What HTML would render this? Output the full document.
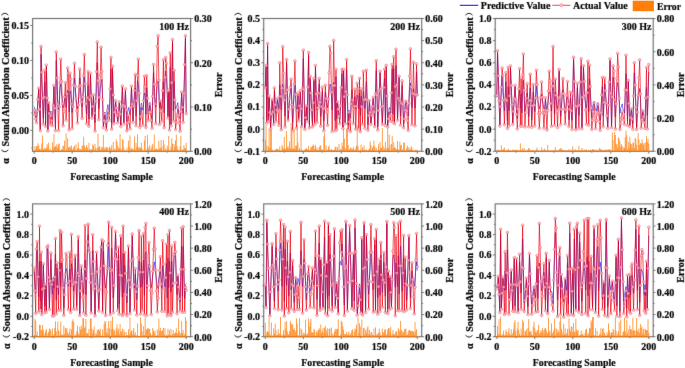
<!DOCTYPE html><html><head><meta charset="utf-8"><style>html,body{margin:0;padding:0;background:#fff;}svg{display:block;will-change:transform;} text{font-family:"Liberation Serif", serif;font-weight:bold;fill:#000;stroke:#000;stroke-width:0.2px;}</style></head><body>
<svg width="685" height="368" viewBox="0 0 685 368">
<defs><filter id="bl" filterUnits="userSpaceOnUse" x="0" y="0" width="685" height="368"><feConvolveMatrix order="3" kernelMatrix="0.015 0.06 0.015 0.06 0.7 0.06 0.015 0.06 0.015" edgeMode="duplicate"/></filter></defs>
<rect width="685" height="368" fill="#fff"/>
<g filter="url(#bl)"><rect x="32.60" y="18.50" width="158.00" height="132.80" fill="none" stroke="#707070" stroke-width="1.15"/>
<path d="M30.20 130.33H32.60M30.20 95.38H32.60M30.20 60.44H32.60M30.20 25.49H32.60M31.20 147.81H32.60M31.20 112.86H32.60M31.20 77.91H32.60M31.20 42.96H32.60M190.60 151.30H193.00M190.60 107.03H193.00M190.60 62.77H193.00M190.60 18.50H193.00M190.60 129.17H192.00M190.60 84.90H192.00M190.60 40.63H192.00M34.20 151.30V153.70M72.20 151.30V153.70M110.20 151.30V153.70M148.20 151.30V153.70M186.20 151.30V153.70M53.20 151.30V152.70M91.20 151.30V152.70M129.20 151.30V152.70M167.20 151.30V152.70" stroke="#5a5a5a" stroke-width="0.8" fill="none"/>
<rect x="263.70" y="18.50" width="158.00" height="132.80" fill="none" stroke="#707070" stroke-width="1.15"/>
<path d="M261.30 151.30H263.70M261.30 129.17H263.70M261.30 107.03H263.70M261.30 84.90H263.70M261.30 62.77H263.70M261.30 40.63H263.70M261.30 18.50H263.70M262.30 140.23H263.70M262.30 118.10H263.70M262.30 95.97H263.70M262.30 73.83H263.70M262.30 51.70H263.70M262.30 29.57H263.70M421.70 151.30H424.10M421.70 129.17H424.10M421.70 107.03H424.10M421.70 84.90H424.10M421.70 62.77H424.10M421.70 40.63H424.10M421.70 18.50H424.10M421.70 140.23H423.10M421.70 118.10H423.10M421.70 95.97H423.10M421.70 73.83H423.10M421.70 51.70H423.10M421.70 29.57H423.10M265.30 151.30V153.70M303.30 151.30V153.70M341.30 151.30V153.70M379.30 151.30V153.70M417.30 151.30V153.70M284.30 151.30V152.70M322.30 151.30V152.70M360.30 151.30V152.70M398.30 151.30V152.70" stroke="#5a5a5a" stroke-width="0.8" fill="none"/>
<rect x="495.20" y="18.50" width="158.00" height="132.80" fill="none" stroke="#707070" stroke-width="1.15"/>
<path d="M492.80 151.30H495.20M492.80 129.17H495.20M492.80 107.03H495.20M492.80 84.90H495.20M492.80 62.77H495.20M492.80 40.63H495.20M492.80 18.50H495.20M493.80 140.23H495.20M493.80 118.10H495.20M493.80 95.97H495.20M493.80 73.83H495.20M493.80 51.70H495.20M493.80 29.57H495.20M653.20 151.30H655.60M653.20 118.10H655.60M653.20 84.90H655.60M653.20 51.70H655.60M653.20 18.50H655.60M653.20 134.70H654.60M653.20 101.50H654.60M653.20 68.30H654.60M653.20 35.10H654.60M496.80 151.30V153.70M534.80 151.30V153.70M572.80 151.30V153.70M610.80 151.30V153.70M648.80 151.30V153.70M515.80 151.30V152.70M553.80 151.30V152.70M591.80 151.30V152.70M629.80 151.30V152.70" stroke="#5a5a5a" stroke-width="0.8" fill="none"/>
<rect x="32.60" y="203.90" width="158.00" height="132.80" fill="none" stroke="#707070" stroke-width="1.15"/>
<path d="M30.20 336.70H32.60M30.20 316.27H32.60M30.20 295.84H32.60M30.20 275.41H32.60M30.20 254.98H32.60M30.20 234.55H32.60M30.20 214.12H32.60M31.20 326.48H32.60M31.20 306.05H32.60M31.20 285.62H32.60M31.20 265.19H32.60M31.20 244.76H32.60M31.20 224.33H32.60M190.60 336.70H193.00M190.60 314.57H193.00M190.60 292.43H193.00M190.60 270.30H193.00M190.60 248.17H193.00M190.60 226.03H193.00M190.60 203.90H193.00M190.60 325.63H192.00M190.60 303.50H192.00M190.60 281.37H192.00M190.60 259.23H192.00M190.60 237.10H192.00M190.60 214.97H192.00M34.20 336.70V339.10M72.20 336.70V339.10M110.20 336.70V339.10M148.20 336.70V339.10M186.20 336.70V339.10M53.20 336.70V338.10M91.20 336.70V338.10M129.20 336.70V338.10M167.20 336.70V338.10" stroke="#5a5a5a" stroke-width="0.8" fill="none"/>
<rect x="263.70" y="203.90" width="158.00" height="132.80" fill="none" stroke="#707070" stroke-width="1.15"/>
<path d="M261.30 336.70H263.70M261.30 316.27H263.70M261.30 295.84H263.70M261.30 275.41H263.70M261.30 254.98H263.70M261.30 234.55H263.70M261.30 214.12H263.70M262.30 326.48H263.70M262.30 306.05H263.70M262.30 285.62H263.70M262.30 265.19H263.70M262.30 244.76H263.70M262.30 224.33H263.70M421.70 336.70H424.10M421.70 314.57H424.10M421.70 292.43H424.10M421.70 270.30H424.10M421.70 248.17H424.10M421.70 226.03H424.10M421.70 203.90H424.10M421.70 325.63H423.10M421.70 303.50H423.10M421.70 281.37H423.10M421.70 259.23H423.10M421.70 237.10H423.10M421.70 214.97H423.10M265.30 336.70V339.10M303.30 336.70V339.10M341.30 336.70V339.10M379.30 336.70V339.10M417.30 336.70V339.10M284.30 336.70V338.10M322.30 336.70V338.10M360.30 336.70V338.10M398.30 336.70V338.10" stroke="#5a5a5a" stroke-width="0.8" fill="none"/>
<rect x="495.20" y="203.90" width="158.00" height="132.80" fill="none" stroke="#707070" stroke-width="1.15"/>
<path d="M492.80 336.70H495.20M492.80 316.27H495.20M492.80 295.84H495.20M492.80 275.41H495.20M492.80 254.98H495.20M492.80 234.55H495.20M492.80 214.12H495.20M493.80 326.48H495.20M493.80 306.05H495.20M493.80 285.62H495.20M493.80 265.19H495.20M493.80 244.76H495.20M493.80 224.33H495.20M653.20 336.70H655.60M653.20 314.57H655.60M653.20 292.43H655.60M653.20 270.30H655.60M653.20 248.17H655.60M653.20 226.03H655.60M653.20 203.90H655.60M653.20 325.63H654.60M653.20 303.50H654.60M653.20 281.37H654.60M653.20 259.23H654.60M653.20 237.10H654.60M653.20 214.97H654.60M496.80 336.70V339.10M534.80 336.70V339.10M572.80 336.70V339.10M610.80 336.70V339.10M648.80 336.70V339.10M515.80 336.70V338.10M553.80 336.70V338.10M591.80 336.70V338.10M629.80 336.70V338.10" stroke="#5a5a5a" stroke-width="0.8" fill="none"/></g>
<g>
<g>
<path d="M34.20 151.80V150.70M34.96 151.80V146.12M35.72 151.80V149.50M36.48 151.80V146.26M37.24 151.80V146.17M38.00 151.80V143.21M38.76 151.80V145.55M39.52 151.80V149.00M40.28 151.80V149.88M41.04 151.80V148.37M41.80 151.80V143.26M42.56 151.80V135.48M43.32 151.80V149.23M44.08 151.80V149.12M44.84 151.80V147.49M45.60 151.80V149.19M46.36 151.80V147.94M47.12 151.80V144.08M47.88 151.80V146.08M48.64 151.80V142.55M49.40 151.80V150.70M50.16 151.80V148.41M50.92 151.80V150.70M51.68 151.80V150.70M52.44 151.80V142.29M53.20 151.80V147.31M53.96 151.80V133.91M54.72 151.80V147.27M55.48 151.80V146.28M56.24 151.80V146.25M57.00 151.80V143.86M57.76 151.80V147.88M58.52 151.80V144.66M59.28 151.80V143.45M60.04 151.80V150.70M60.80 151.80V150.62M61.56 151.80V149.49M62.32 151.80V148.86M63.08 151.80V145.75M63.84 151.80V145.90M64.60 151.80V140.56M65.36 151.80V150.70M66.12 151.80V133.29M66.88 151.80V149.22M67.64 151.80V138.35M68.40 151.80V147.33M69.16 151.80V147.28M69.92 151.80V146.64M70.68 151.80V147.89M71.44 151.80V145.36M72.20 151.80V149.94M72.96 151.80V148.82M73.72 151.80V146.96M74.48 151.80V145.53M75.24 151.80V150.60M76.00 151.80V144.33M76.76 151.80V150.70M77.52 151.80V148.27M78.28 151.80V142.44M79.04 151.80V148.25M79.80 151.80V149.45M80.56 151.80V149.19M81.32 151.80V149.72M82.08 151.80V145.95M82.84 151.80V145.55M83.60 151.80V136.76M84.36 151.80V145.43M85.12 151.80V147.56M85.88 151.80V148.25M86.64 151.80V144.97M87.40 151.80V147.36M88.16 151.80V150.59M88.92 151.80V142.85M89.68 151.80V148.90M90.44 151.80V150.52M91.20 151.80V149.20M91.96 151.80V149.26M92.72 151.80V144.49M93.48 151.80V145.63M94.24 151.80V150.25M95.00 151.80V143.91M95.76 151.80V148.04M96.52 151.80V150.70M97.28 151.80V147.98M98.04 151.80V133.78M98.80 151.80V147.16M99.56 151.80V146.21M100.32 151.80V149.93M101.08 151.80V147.21M101.84 151.80V148.98M102.60 151.80V147.04M103.36 151.80V135.11M104.12 151.80V149.18M104.88 151.80V147.31M105.64 151.80V149.09M106.40 151.80V147.02M107.16 151.80V147.29M107.92 151.80V148.14M108.68 151.80V150.64M109.44 151.80V146.60M110.20 151.80V147.62M110.96 151.80V149.05M111.72 151.80V145.20M112.48 151.80V150.70M113.24 151.80V141.90M114.00 151.80V149.99M114.76 151.80V148.41M115.52 151.80V150.20M116.28 151.80V139.38M117.04 151.80V141.78M117.80 151.80V145.99M118.56 151.80V148.67M119.32 151.80V147.73M120.08 151.80V134.11M120.84 151.80V148.55M121.60 151.80V150.70M122.36 151.80V139.26M123.12 151.80V139.50M123.88 151.80V147.69M124.64 151.80V150.70M125.40 151.80V150.70M126.16 151.80V150.52M126.92 151.80V147.75M127.68 151.80V150.70M128.44 151.80V140.68M129.20 151.80V146.76M129.96 151.80V135.35M130.72 151.80V149.38M131.48 151.80V148.43M132.24 151.80V148.27M133.00 151.80V150.70M133.76 151.80V149.04M134.52 151.80V136.43M135.28 151.80V149.66M136.04 151.80V142.85M136.80 151.80V147.17M137.56 151.80V134.35M138.32 151.80V147.36M139.08 151.80V148.61M139.84 151.80V147.02M140.60 151.80V147.95M141.36 151.80V142.73M142.12 151.80V148.76M142.88 151.80V150.47M143.64 151.80V150.70M144.40 151.80V140.51M145.16 151.80V135.90M145.92 151.80V150.70M146.68 151.80V149.62M147.44 151.80V134.87M148.20 151.80V147.06M148.96 151.80V149.37M149.72 151.80V145.23M150.48 151.80V150.70M151.24 151.80V148.22M152.00 151.80V145.88M152.76 151.80V143.81M153.52 151.80V150.21M154.28 151.80V134.61M155.04 151.80V148.92M155.80 151.80V149.75M156.56 151.80V148.45M157.32 151.80V149.04M158.08 151.80V150.70M158.84 151.80V140.92M159.60 151.80V148.76M160.36 151.80V147.95M161.12 151.80V140.10M161.88 151.80V146.65M162.64 151.80V150.55M163.40 151.80V139.89M164.16 151.80V144.39M164.92 151.80V150.33M165.68 151.80V148.57M166.44 151.80V150.70M167.20 151.80V145.47M167.96 151.80V148.58M168.72 151.80V136.00M169.48 151.80V150.56M170.24 151.80V150.37M171.00 151.80V146.78M171.76 151.80V138.40M172.52 151.80V143.74M173.28 151.80V150.70M174.04 151.80V144.03M174.80 151.80V147.06M175.56 151.80V140.35M176.32 151.80V134.67M177.08 151.80V146.07M177.84 151.80V149.29M178.60 151.80V150.70M179.36 151.80V150.70M180.12 151.80V146.37M180.88 151.80V135.85M181.64 151.80V150.70M182.40 151.80V149.73M183.16 151.80V149.48M183.92 151.80V145.02M184.68 151.80V147.93M185.44 151.80V148.24M186.20 151.80V142.90" stroke="#ff7a00" stroke-width="0.7" stroke-opacity="1" fill="none"/>
<polyline points="34.20,106.76 34.96,109.15 35.72,117.10 36.48,118.99 37.24,110.57 38.00,99.64 38.76,88.70 39.52,108.65 40.28,129.19 41.04,54.25 41.80,83.43 42.56,99.14 43.32,118.37 44.08,98.54 44.84,82.12 45.60,123.55 46.36,66.85 47.12,98.12 47.88,129.38 48.64,102.38 49.40,112.72 50.16,115.20 50.92,111.03 51.68,118.47 52.44,121.92 53.20,104.71 53.96,86.23 54.72,107.73 55.48,127.95 56.24,60.50 57.00,83.10 57.76,101.53 58.52,109.25 59.28,103.57 60.04,86.84 60.80,83.90 61.56,93.09 62.32,101.31 63.08,107.85 63.84,105.40 64.60,99.08 65.36,93.89 66.12,107.35 66.88,98.34 67.64,90.18 68.40,92.10 69.16,111.91 69.92,91.92 70.68,90.96 71.44,101.79 72.20,112.49 72.96,103.06 73.72,95.63 74.48,78.05 75.24,88.12 76.00,98.97 76.76,104.57 77.52,108.63 78.28,102.76 79.04,96.21 79.80,78.00 80.56,91.84 81.32,101.03 82.08,106.51 82.84,98.91 83.60,88.22 84.36,76.63 85.12,90.52 85.88,101.81 86.64,113.96 87.40,98.78 88.16,85.48 88.92,119.07 89.68,99.83 90.44,74.64 91.20,95.91 91.96,115.36 92.72,106.14 93.48,96.43 94.24,112.35 95.00,122.68 95.76,100.70 96.52,89.66 97.28,62.52 98.04,85.93 98.80,108.94 99.56,98.65 100.32,88.86 101.08,82.54 101.84,79.38 102.60,99.68 103.36,126.30 104.12,119.73 104.88,112.00 105.64,120.87 106.40,127.57 107.16,108.81 107.92,104.57 108.68,110.54 109.44,112.22 110.20,90.97 110.96,68.99 111.72,123.33 112.48,70.95 113.24,95.21 114.00,122.43 114.76,110.14 115.52,100.65 116.28,107.67 117.04,114.67 117.80,121.57 118.56,111.74 119.32,101.81 120.08,113.51 120.84,125.21 121.60,106.00 122.36,86.80 123.12,104.78 123.88,122.88 124.64,106.22 125.40,91.73 126.16,105.98 126.92,121.43 127.68,112.08 128.44,107.64 129.20,110.24 129.96,114.92 130.72,103.33 131.48,87.53 132.24,103.96 133.00,121.12 133.76,104.47 134.52,95.81 135.28,87.97 136.04,115.85 136.80,100.48 137.56,80.59 138.32,84.73 139.08,96.52 139.84,120.19 140.60,107.44 141.36,103.05 142.12,107.82 142.88,110.13 143.64,100.35 144.40,92.97 145.16,95.58 145.92,114.38 146.68,87.40 147.44,98.48 148.20,113.91 148.96,111.77 149.72,102.43 150.48,107.03 151.24,113.37 152.00,122.15 152.76,96.60 153.52,72.61 154.28,94.07 155.04,101.44 155.80,107.22 156.56,95.33 157.32,84.00 158.08,80.85 158.84,94.14 159.60,108.07 160.36,100.43 161.12,106.03 161.88,108.75 162.64,96.64 163.40,81.60 164.16,112.74 164.92,83.93 165.68,70.94 166.44,77.98 167.20,92.56 167.96,116.13 168.72,92.80 169.48,119.62 170.24,67.44 171.00,124.12 171.76,83.61 172.52,42.63 173.28,110.84 174.04,81.64 174.80,100.08 175.56,108.99 176.32,106.81 177.08,104.94 177.84,102.67 178.60,112.30 179.36,117.42 180.12,118.62 180.88,109.36 181.64,93.36 182.40,105.42 183.16,113.06 183.92,96.39 184.68,70.52 185.44,39.02 186.20,112.25" stroke="#0010ff" stroke-width="0.7" stroke-opacity="0.8" fill="none" stroke-linejoin="round"/>
<polyline points="34.20,110.69 34.96,114.67 35.72,118.65 36.48,122.63 37.24,111.12 38.00,99.61 38.76,88.10 39.52,109.41 40.28,130.72 41.04,46.40 41.80,72.35 42.56,98.29 43.32,124.24 44.08,97.27 44.84,70.30 45.60,126.62 46.36,65.10 47.12,98.01 47.88,130.92 48.64,102.50 49.40,113.57 50.16,124.64 50.92,115.70 51.68,120.68 52.44,125.67 53.20,105.58 53.96,85.50 54.72,108.13 55.48,130.75 56.24,51.90 57.00,78.09 57.76,104.27 58.52,130.46 59.28,106.67 60.04,82.89 60.80,59.10 61.56,81.33 62.32,103.56 63.08,125.80 63.84,111.40 64.60,97.00 65.36,82.60 66.12,120.17 66.88,94.09 67.64,68.00 68.40,73.30 69.16,130.00 69.92,73.30 70.68,79.10 71.44,103.85 72.20,128.61 72.96,106.84 73.72,85.07 74.48,63.30 75.24,86.50 76.00,98.65 76.76,110.81 77.52,122.96 78.28,104.97 79.04,86.99 79.80,69.00 80.56,85.49 81.32,101.99 82.08,118.48 82.84,97.12 83.60,75.76 84.36,54.40 85.12,83.80 85.88,103.73 86.64,123.66 87.40,97.58 88.16,71.50 88.92,126.18 89.68,99.74 90.44,73.30 91.20,95.69 91.96,118.08 92.72,106.49 93.48,94.90 94.24,112.99 95.00,131.08 95.76,101.35 96.52,71.63 97.28,41.90 98.04,80.81 98.80,119.73 99.56,97.36 100.32,75.00 101.08,47.20 101.84,71.50 102.60,99.59 103.36,127.68 104.12,120.76 104.88,113.83 105.64,121.96 106.40,130.08 107.16,120.52 107.92,110.96 108.68,115.64 109.44,120.32 110.20,88.91 110.96,57.50 111.72,129.20 112.48,66.30 113.24,94.95 114.00,123.60 114.76,112.15 115.52,100.70 116.28,108.07 117.04,115.43 117.80,122.80 118.56,112.35 119.32,101.90 120.08,114.21 120.84,126.52 121.60,106.31 122.36,86.10 123.12,105.09 123.88,124.07 124.64,106.54 125.40,89.00 126.16,109.93 126.92,130.85 127.68,123.08 128.44,115.31 129.20,122.08 129.96,128.85 130.72,107.48 131.48,86.10 132.24,104.16 133.00,122.22 133.76,106.28 134.52,90.34 135.28,74.40 136.04,125.75 136.80,100.68 137.56,75.60 138.32,59.10 139.08,93.22 139.84,127.34 140.60,116.73 141.36,106.12 142.12,115.76 142.88,125.39 143.64,100.80 144.40,76.20 145.16,86.70 145.92,127.54 146.68,75.60 147.44,98.11 148.20,120.62 148.96,112.38 149.72,104.14 150.48,112.20 151.24,120.26 152.00,128.32 152.76,96.41 153.52,64.50 154.28,84.23 155.04,103.97 155.80,123.70 156.56,85.00 157.32,46.30 158.08,35.80 158.84,80.09 159.60,124.39 160.36,101.06 161.12,111.30 161.88,121.53 162.64,90.67 163.40,59.80 164.16,127.70 164.92,77.40 165.68,57.50 166.44,63.30 167.20,90.66 167.96,118.03 168.72,90.20 169.48,130.08 170.24,52.80 171.00,125.88 171.76,82.74 172.52,39.60 173.28,121.15 174.04,70.30 174.80,99.95 175.56,129.60 176.32,122.34 177.08,115.07 177.84,107.81 178.60,115.60 179.36,123.39 180.12,131.18 180.88,111.59 181.64,92.00 182.40,107.19 183.16,122.39 183.92,93.53 184.68,64.66 185.44,35.80 186.20,113.72" stroke="#f00010" stroke-width="0.8" stroke-opacity="0.85" fill="none" stroke-linejoin="round"/>
<g fill="#f8b8c0" fill-opacity="0.7" stroke="#e85060" stroke-width="0.45" stroke-opacity="0.75"><circle cx="34.20" cy="110.69" r="1.45"/><circle cx="34.96" cy="114.67" r="1.45"/><circle cx="35.72" cy="118.65" r="1.45"/><circle cx="36.48" cy="122.63" r="1.45"/><circle cx="37.24" cy="111.12" r="1.45"/><circle cx="38.00" cy="99.61" r="1.45"/><circle cx="38.76" cy="88.10" r="1.45"/><circle cx="39.52" cy="109.41" r="1.45"/><circle cx="40.28" cy="130.72" r="1.45"/><circle cx="41.04" cy="46.40" r="1.45"/><circle cx="41.80" cy="72.35" r="1.45"/><circle cx="42.56" cy="98.29" r="1.45"/><circle cx="43.32" cy="124.24" r="1.45"/><circle cx="44.08" cy="97.27" r="1.45"/><circle cx="44.84" cy="70.30" r="1.45"/><circle cx="45.60" cy="126.62" r="1.45"/><circle cx="46.36" cy="65.10" r="1.45"/><circle cx="47.12" cy="98.01" r="1.45"/><circle cx="47.88" cy="130.92" r="1.45"/><circle cx="48.64" cy="102.50" r="1.45"/><circle cx="49.40" cy="113.57" r="1.45"/><circle cx="50.16" cy="124.64" r="1.45"/><circle cx="50.92" cy="115.70" r="1.45"/><circle cx="51.68" cy="120.68" r="1.45"/><circle cx="52.44" cy="125.67" r="1.45"/><circle cx="53.20" cy="105.58" r="1.45"/><circle cx="53.96" cy="85.50" r="1.45"/><circle cx="54.72" cy="108.13" r="1.45"/><circle cx="55.48" cy="130.75" r="1.45"/><circle cx="56.24" cy="51.90" r="1.45"/><circle cx="57.00" cy="78.09" r="1.45"/><circle cx="57.76" cy="104.27" r="1.45"/><circle cx="58.52" cy="130.46" r="1.45"/><circle cx="59.28" cy="106.67" r="1.45"/><circle cx="60.04" cy="82.89" r="1.45"/><circle cx="60.80" cy="59.10" r="1.45"/><circle cx="61.56" cy="81.33" r="1.45"/><circle cx="62.32" cy="103.56" r="1.45"/><circle cx="63.08" cy="125.80" r="1.45"/><circle cx="63.84" cy="111.40" r="1.45"/><circle cx="64.60" cy="97.00" r="1.45"/><circle cx="65.36" cy="82.60" r="1.45"/><circle cx="66.12" cy="120.17" r="1.45"/><circle cx="66.88" cy="94.09" r="1.45"/><circle cx="67.64" cy="68.00" r="1.45"/><circle cx="68.40" cy="73.30" r="1.45"/><circle cx="69.16" cy="130.00" r="1.45"/><circle cx="69.92" cy="73.30" r="1.45"/><circle cx="70.68" cy="79.10" r="1.45"/><circle cx="71.44" cy="103.85" r="1.45"/><circle cx="72.20" cy="128.61" r="1.45"/><circle cx="72.96" cy="106.84" r="1.45"/><circle cx="73.72" cy="85.07" r="1.45"/><circle cx="74.48" cy="63.30" r="1.45"/><circle cx="75.24" cy="86.50" r="1.45"/><circle cx="76.00" cy="98.65" r="1.45"/><circle cx="76.76" cy="110.81" r="1.45"/><circle cx="77.52" cy="122.96" r="1.45"/><circle cx="78.28" cy="104.97" r="1.45"/><circle cx="79.04" cy="86.99" r="1.45"/><circle cx="79.80" cy="69.00" r="1.45"/><circle cx="80.56" cy="85.49" r="1.45"/><circle cx="81.32" cy="101.99" r="1.45"/><circle cx="82.08" cy="118.48" r="1.45"/><circle cx="82.84" cy="97.12" r="1.45"/><circle cx="83.60" cy="75.76" r="1.45"/><circle cx="84.36" cy="54.40" r="1.45"/><circle cx="85.12" cy="83.80" r="1.45"/><circle cx="85.88" cy="103.73" r="1.45"/><circle cx="86.64" cy="123.66" r="1.45"/><circle cx="87.40" cy="97.58" r="1.45"/><circle cx="88.16" cy="71.50" r="1.45"/><circle cx="88.92" cy="126.18" r="1.45"/><circle cx="89.68" cy="99.74" r="1.45"/><circle cx="90.44" cy="73.30" r="1.45"/><circle cx="91.20" cy="95.69" r="1.45"/><circle cx="91.96" cy="118.08" r="1.45"/><circle cx="92.72" cy="106.49" r="1.45"/><circle cx="93.48" cy="94.90" r="1.45"/><circle cx="94.24" cy="112.99" r="1.45"/><circle cx="95.00" cy="131.08" r="1.45"/><circle cx="95.76" cy="101.35" r="1.45"/><circle cx="96.52" cy="71.63" r="1.45"/><circle cx="97.28" cy="41.90" r="1.45"/><circle cx="98.04" cy="80.81" r="1.45"/><circle cx="98.80" cy="119.73" r="1.45"/><circle cx="99.56" cy="97.36" r="1.45"/><circle cx="100.32" cy="75.00" r="1.45"/><circle cx="101.08" cy="47.20" r="1.45"/><circle cx="101.84" cy="71.50" r="1.45"/><circle cx="102.60" cy="99.59" r="1.45"/><circle cx="103.36" cy="127.68" r="1.45"/><circle cx="104.12" cy="120.76" r="1.45"/><circle cx="104.88" cy="113.83" r="1.45"/><circle cx="105.64" cy="121.96" r="1.45"/><circle cx="106.40" cy="130.08" r="1.45"/><circle cx="107.16" cy="120.52" r="1.45"/><circle cx="107.92" cy="110.96" r="1.45"/><circle cx="108.68" cy="115.64" r="1.45"/><circle cx="109.44" cy="120.32" r="1.45"/><circle cx="110.20" cy="88.91" r="1.45"/><circle cx="110.96" cy="57.50" r="1.45"/><circle cx="111.72" cy="129.20" r="1.45"/><circle cx="112.48" cy="66.30" r="1.45"/><circle cx="113.24" cy="94.95" r="1.45"/><circle cx="114.00" cy="123.60" r="1.45"/><circle cx="114.76" cy="112.15" r="1.45"/><circle cx="115.52" cy="100.70" r="1.45"/><circle cx="116.28" cy="108.07" r="1.45"/><circle cx="117.04" cy="115.43" r="1.45"/><circle cx="117.80" cy="122.80" r="1.45"/><circle cx="118.56" cy="112.35" r="1.45"/><circle cx="119.32" cy="101.90" r="1.45"/><circle cx="120.08" cy="114.21" r="1.45"/><circle cx="120.84" cy="126.52" r="1.45"/><circle cx="121.60" cy="106.31" r="1.45"/><circle cx="122.36" cy="86.10" r="1.45"/><circle cx="123.12" cy="105.09" r="1.45"/><circle cx="123.88" cy="124.07" r="1.45"/><circle cx="124.64" cy="106.54" r="1.45"/><circle cx="125.40" cy="89.00" r="1.45"/><circle cx="126.16" cy="109.93" r="1.45"/><circle cx="126.92" cy="130.85" r="1.45"/><circle cx="127.68" cy="123.08" r="1.45"/><circle cx="128.44" cy="115.31" r="1.45"/><circle cx="129.20" cy="122.08" r="1.45"/><circle cx="129.96" cy="128.85" r="1.45"/><circle cx="130.72" cy="107.48" r="1.45"/><circle cx="131.48" cy="86.10" r="1.45"/><circle cx="132.24" cy="104.16" r="1.45"/><circle cx="133.00" cy="122.22" r="1.45"/><circle cx="133.76" cy="106.28" r="1.45"/><circle cx="134.52" cy="90.34" r="1.45"/><circle cx="135.28" cy="74.40" r="1.45"/><circle cx="136.04" cy="125.75" r="1.45"/><circle cx="136.80" cy="100.68" r="1.45"/><circle cx="137.56" cy="75.60" r="1.45"/><circle cx="138.32" cy="59.10" r="1.45"/><circle cx="139.08" cy="93.22" r="1.45"/><circle cx="139.84" cy="127.34" r="1.45"/><circle cx="140.60" cy="116.73" r="1.45"/><circle cx="141.36" cy="106.12" r="1.45"/><circle cx="142.12" cy="115.76" r="1.45"/><circle cx="142.88" cy="125.39" r="1.45"/><circle cx="143.64" cy="100.80" r="1.45"/><circle cx="144.40" cy="76.20" r="1.45"/><circle cx="145.16" cy="86.70" r="1.45"/><circle cx="145.92" cy="127.54" r="1.45"/><circle cx="146.68" cy="75.60" r="1.45"/><circle cx="147.44" cy="98.11" r="1.45"/><circle cx="148.20" cy="120.62" r="1.45"/><circle cx="148.96" cy="112.38" r="1.45"/><circle cx="149.72" cy="104.14" r="1.45"/><circle cx="150.48" cy="112.20" r="1.45"/><circle cx="151.24" cy="120.26" r="1.45"/><circle cx="152.00" cy="128.32" r="1.45"/><circle cx="152.76" cy="96.41" r="1.45"/><circle cx="153.52" cy="64.50" r="1.45"/><circle cx="154.28" cy="84.23" r="1.45"/><circle cx="155.04" cy="103.97" r="1.45"/><circle cx="155.80" cy="123.70" r="1.45"/><circle cx="156.56" cy="85.00" r="1.45"/><circle cx="157.32" cy="46.30" r="1.45"/><circle cx="158.08" cy="35.80" r="1.45"/><circle cx="158.84" cy="80.09" r="1.45"/><circle cx="159.60" cy="124.39" r="1.45"/><circle cx="160.36" cy="101.06" r="1.45"/><circle cx="161.12" cy="111.30" r="1.45"/><circle cx="161.88" cy="121.53" r="1.45"/><circle cx="162.64" cy="90.67" r="1.45"/><circle cx="163.40" cy="59.80" r="1.45"/><circle cx="164.16" cy="127.70" r="1.45"/><circle cx="164.92" cy="77.40" r="1.45"/><circle cx="165.68" cy="57.50" r="1.45"/><circle cx="166.44" cy="63.30" r="1.45"/><circle cx="167.20" cy="90.66" r="1.45"/><circle cx="167.96" cy="118.03" r="1.45"/><circle cx="168.72" cy="90.20" r="1.45"/><circle cx="169.48" cy="130.08" r="1.45"/><circle cx="170.24" cy="52.80" r="1.45"/><circle cx="171.00" cy="125.88" r="1.45"/><circle cx="171.76" cy="82.74" r="1.45"/><circle cx="172.52" cy="39.60" r="1.45"/><circle cx="173.28" cy="121.15" r="1.45"/><circle cx="174.04" cy="70.30" r="1.45"/><circle cx="174.80" cy="99.95" r="1.45"/><circle cx="175.56" cy="129.60" r="1.45"/><circle cx="176.32" cy="122.34" r="1.45"/><circle cx="177.08" cy="115.07" r="1.45"/><circle cx="177.84" cy="107.81" r="1.45"/><circle cx="178.60" cy="115.60" r="1.45"/><circle cx="179.36" cy="123.39" r="1.45"/><circle cx="180.12" cy="131.18" r="1.45"/><circle cx="180.88" cy="111.59" r="1.45"/><circle cx="181.64" cy="92.00" r="1.45"/><circle cx="182.40" cy="107.19" r="1.45"/><circle cx="183.16" cy="122.39" r="1.45"/><circle cx="183.92" cy="93.53" r="1.45"/><circle cx="184.68" cy="64.66" r="1.45"/><circle cx="185.44" cy="35.80" r="1.45"/><circle cx="186.20" cy="113.72" r="1.45"/></g>
</g>
<g>
<path d="M265.30 151.80V139.80M266.06 151.80V124.83M266.82 151.80V145.52M267.58 151.80V150.70M268.34 151.80V146.62M269.10 151.80V129.15M269.86 151.80V148.05M270.62 151.80V127.56M271.38 151.80V129.25M272.14 151.80V149.60M272.90 151.80V150.40M273.66 151.80V150.70M274.42 151.80V150.43M275.18 151.80V150.70M275.94 151.80V149.02M276.70 151.80V148.71M277.46 151.80V149.17M278.22 151.80V149.49M278.98 151.80V149.69M279.74 151.80V146.49M280.50 151.80V150.70M281.26 151.80V150.70M282.02 151.80V144.91M282.78 151.80V146.96M283.54 151.80V149.09M284.30 151.80V136.94M285.06 151.80V148.52M285.82 151.80V148.64M286.58 151.80V130.94M287.34 151.80V147.51M288.10 151.80V145.92M288.86 151.80V148.25M289.62 151.80V141.36M290.38 151.80V148.27M291.14 151.80V122.89M291.90 151.80V127.51M292.66 151.80V148.31M293.42 151.80V148.55M294.18 151.80V129.40M294.94 151.80V148.79M295.70 151.80V145.70M296.46 151.80V145.77M297.22 151.80V125.09M297.98 151.80V142.66M298.74 151.80V150.70M299.50 151.80V148.02M300.26 151.80V150.70M301.02 151.80V126.11M301.78 151.80V149.32M302.54 151.80V150.70M303.30 151.80V150.70M304.06 151.80V150.70M304.82 151.80V149.56M305.58 151.80V149.01M306.34 151.80V148.24M307.10 151.80V148.81M307.86 151.80V149.92M308.62 151.80V146.02M309.38 151.80V150.70M310.14 151.80V149.65M310.90 151.80V147.18M311.66 151.80V147.15M312.42 151.80V146.07M313.18 151.80V144.42M313.94 151.80V146.03M314.70 151.80V149.16M315.46 151.80V144.84M316.22 151.80V149.69M316.98 151.80V147.53M317.74 151.80V150.60M318.50 151.80V149.72M319.26 151.80V147.09M320.02 151.80V145.65M320.78 151.80V145.37M321.54 151.80V149.50M322.30 151.80V149.65M323.06 151.80V150.41M323.82 151.80V136.39M324.58 151.80V133.03M325.34 151.80V150.70M326.10 151.80V145.37M326.86 151.80V150.70M327.62 151.80V149.98M328.38 151.80V146.78M329.14 151.80V145.47M329.90 151.80V149.63M330.66 151.80V149.82M331.42 151.80V149.18M332.18 151.80V150.08M332.94 151.80V150.43M333.70 151.80V150.01M334.46 151.80V149.81M335.22 151.80V146.78M335.98 151.80V146.74M336.74 151.80V150.27M337.50 151.80V147.16M338.26 151.80V150.70M339.02 151.80V144.01M339.78 151.80V150.41M340.54 151.80V149.20M341.30 151.80V149.36M342.06 151.80V142.64M342.82 151.80V146.40M343.58 151.80V125.22M344.34 151.80V138.62M345.10 151.80V147.70M345.86 151.80V149.58M346.62 151.80V128.82M347.38 151.80V128.42M348.14 151.80V144.81M348.90 151.80V149.68M349.66 151.80V149.61M350.42 151.80V147.57M351.18 151.80V147.91M351.94 151.80V149.79M352.70 151.80V148.78M353.46 151.80V146.78M354.22 151.80V149.87M354.98 151.80V150.70M355.74 151.80V148.21M356.50 151.80V145.59M357.26 151.80V125.20M358.02 151.80V146.09M358.78 151.80V150.70M359.54 151.80V150.70M360.30 151.80V149.78M361.06 151.80V144.61M361.82 151.80V150.70M362.58 151.80V147.19M363.34 151.80V149.64M364.10 151.80V145.29M364.86 151.80V149.93M365.62 151.80V150.70M366.38 151.80V149.50M367.14 151.80V150.53M367.90 151.80V150.58M368.66 151.80V149.90M369.42 151.80V148.30M370.18 151.80V141.42M370.94 151.80V145.00M371.70 151.80V150.70M372.46 151.80V147.71M373.22 151.80V145.70M373.98 151.80V140.60M374.74 151.80V146.78M375.50 151.80V150.70M376.26 151.80V147.63M377.02 151.80V150.70M377.78 151.80V150.70M378.54 151.80V144.25M379.30 151.80V149.82M380.06 151.80V141.90M380.82 151.80V147.78M381.58 151.80V148.10M382.34 151.80V128.15M383.10 151.80V146.33M383.86 151.80V149.93M384.62 151.80V148.33M385.38 151.80V142.04M386.14 151.80V150.46M386.90 151.80V147.41M387.66 151.80V126.16M388.42 151.80V148.05M389.18 151.80V134.60M389.94 151.80V144.83M390.70 151.80V150.65M391.46 151.80V144.06M392.22 151.80V136.18M392.98 151.80V147.91M393.74 151.80V142.21M394.50 151.80V147.50M395.26 151.80V147.85M396.02 151.80V149.23M396.78 151.80V149.30M397.54 151.80V141.15M398.30 151.80V149.24M399.06 151.80V150.70M399.82 151.80V141.65M400.58 151.80V145.48M401.34 151.80V144.73M402.10 151.80V150.33M402.86 151.80V149.17M403.62 151.80V142.44M404.38 151.80V142.84M405.14 151.80V150.70M405.90 151.80V150.15M406.66 151.80V148.15M407.42 151.80V145.71M408.18 151.80V149.48M408.94 151.80V147.03M409.70 151.80V149.62M410.46 151.80V149.26M411.22 151.80V146.14M411.98 151.80V147.70M412.74 151.80V149.94M413.50 151.80V150.70M414.26 151.80V150.70M415.02 151.80V150.35M415.78 151.80V149.82M416.54 151.80V150.12M417.30 151.80V150.05" stroke="#ff7a00" stroke-width="0.7" stroke-opacity="1" fill="none"/>
<polyline points="265.30,88.44 266.06,67.14 266.82,121.86 267.58,46.33 268.34,117.11 269.10,97.31 269.86,110.48 270.62,127.40 271.38,113.47 272.14,99.53 272.90,111.41 273.66,122.42 274.42,91.35 275.18,103.22 275.94,112.55 276.70,103.43 277.46,99.64 278.22,104.13 278.98,108.51 279.74,84.83 280.50,98.22 281.26,109.75 282.02,96.59 282.78,84.10 283.54,91.75 284.30,100.21 285.06,116.24 285.82,95.78 286.58,63.55 287.34,90.45 288.10,119.13 288.86,108.90 289.62,98.89 290.38,91.66 291.14,85.64 291.90,103.05 292.66,122.37 293.42,104.86 294.18,95.38 294.94,83.62 295.70,97.98 296.46,111.88 297.22,106.48 297.98,95.94 298.74,117.99 299.50,104.94 300.26,92.47 301.02,107.34 301.78,125.33 302.54,92.04 303.30,58.60 304.06,90.82 304.82,127.53 305.58,115.03 306.34,105.56 307.10,120.31 307.86,87.59 308.62,55.87 309.38,124.60 310.14,79.12 310.90,94.60 311.66,109.05 312.42,123.11 313.18,102.28 313.94,81.11 314.70,121.97 315.46,67.14 316.22,94.83 316.98,109.84 317.74,104.31 318.50,95.80 319.26,84.12 320.02,101.34 320.78,116.36 321.54,103.38 322.30,91.62 323.06,106.85 323.82,120.69 324.58,105.83 325.34,92.50 326.10,99.70 326.86,103.70 327.62,107.69 328.38,99.81 329.14,91.92 329.90,84.04 330.66,86.02 331.42,95.63 332.18,110.03 332.94,92.28 333.70,82.24 334.46,90.52 335.22,120.74 335.98,76.70 336.74,118.63 337.50,101.52 338.26,108.76 339.02,115.71 339.78,119.30 340.54,105.18 341.30,88.32 342.06,73.88 342.82,127.14 343.58,70.94 344.34,97.10 345.10,122.69 345.86,92.11 346.62,69.88 347.38,95.78 348.14,124.97 348.90,110.05 349.66,115.80 350.42,118.17 351.18,101.87 351.94,90.20 352.70,100.06 353.46,107.90 354.22,102.07 354.98,96.60 355.74,108.91 356.50,102.29 357.26,95.08 358.02,96.82 358.78,108.85 359.54,93.03 360.30,115.50 361.06,96.37 361.82,102.13 362.58,107.44 363.34,91.51 364.10,100.07 364.86,108.63 365.62,99.85 366.38,81.58 367.14,100.17 367.90,124.59 368.66,113.17 369.42,100.67 370.18,111.64 370.94,123.17 371.70,114.59 372.46,104.62 373.22,98.00 373.98,109.00 374.74,125.35 375.50,93.96 376.26,70.45 377.02,96.35 377.78,126.45 378.54,109.96 379.30,92.10 380.06,72.74 380.82,90.56 381.58,106.42 382.34,122.43 383.10,105.50 383.86,89.51 384.62,78.35 385.38,124.16 386.14,67.14 386.90,97.25 387.66,125.51 388.42,114.14 389.18,107.37 389.94,108.03 390.70,112.88 391.46,94.01 392.22,68.99 392.98,114.20 393.74,68.51 394.50,122.70 395.26,89.00 396.02,65.55 396.78,88.00 397.54,119.35 398.30,98.37 399.06,77.40 399.82,100.60 400.58,116.10 401.34,102.42 402.10,85.42 402.86,102.54 403.62,123.55 404.38,110.61 405.14,103.50 405.90,100.66 406.66,103.43 407.42,106.59 408.18,116.03 408.94,101.88 409.70,87.05 410.46,82.88 411.22,96.18 411.98,107.57 412.74,98.18 413.50,88.78 414.26,98.33 415.02,107.87 415.78,96.66 416.54,72.16 417.30,96.28" stroke="#0010ff" stroke-width="0.7" stroke-opacity="0.8" fill="none" stroke-linejoin="round"/>
<polyline points="265.30,87.82 266.06,65.40 266.82,123.00 267.58,43.50 268.34,121.41 269.10,96.00 269.86,112.42 270.62,128.83 271.38,114.17 272.14,99.50 272.90,112.00 273.66,124.51 274.42,87.85 275.18,104.82 275.94,121.79 276.70,110.09 277.46,98.40 278.22,111.81 278.98,125.23 279.74,62.80 280.50,96.34 281.26,129.87 282.02,88.24 282.78,46.60 283.54,73.43 284.30,100.26 285.06,127.09 285.82,93.29 286.58,59.50 287.34,89.94 288.10,120.38 288.86,109.36 289.62,98.33 290.38,87.30 291.14,79.10 291.90,104.87 292.66,130.63 293.42,107.42 294.18,84.21 294.94,61.00 295.70,94.57 296.46,128.15 297.22,110.62 297.98,93.10 298.74,120.89 299.50,105.84 300.26,90.80 301.02,108.73 301.78,126.65 302.54,88.38 303.30,50.10 304.06,89.76 304.82,129.42 305.58,117.74 306.34,106.07 307.10,121.36 307.86,86.93 308.62,52.50 309.38,127.96 310.14,76.20 310.90,93.10 311.66,110.00 312.42,126.90 313.18,102.70 313.94,78.50 314.70,124.60 315.46,65.40 316.22,93.98 316.98,122.55 317.74,107.87 318.50,93.18 319.26,78.50 320.02,102.33 320.78,126.16 321.54,106.73 322.30,87.30 323.06,109.09 323.82,130.89 324.58,108.09 325.34,85.30 326.10,98.61 326.86,111.92 327.62,125.23 328.38,98.95 329.14,72.68 329.90,46.40 330.66,53.00 331.42,92.21 332.18,131.42 332.94,85.91 333.70,40.40 334.46,85.57 335.22,130.73 335.98,69.40 336.74,129.63 337.50,101.90 338.26,109.21 339.02,116.53 339.78,123.84 340.54,105.69 341.30,87.55 342.06,69.40 342.82,128.56 343.58,69.40 344.34,96.64 345.10,123.88 345.86,91.69 346.62,59.50 347.38,94.72 348.14,129.94 348.90,112.24 349.66,121.90 350.42,131.55 351.18,103.88 351.94,76.20 352.70,99.95 353.46,123.70 354.22,106.48 354.98,89.27 355.74,129.29 356.50,106.25 357.26,83.20 358.02,89.00 358.78,129.09 359.54,78.30 360.30,131.67 361.06,89.00 361.82,106.70 362.58,124.40 363.34,71.30 364.10,99.83 364.86,128.36 365.62,99.23 366.38,70.10 367.14,100.17 367.90,130.25 368.66,115.47 369.42,100.70 370.18,112.54 370.94,124.38 371.70,115.35 372.46,106.33 373.22,97.30 373.98,111.99 374.74,126.67 375.50,93.64 376.26,60.60 377.02,95.33 377.78,130.06 378.54,110.47 379.30,90.89 380.06,71.30 380.82,89.02 381.58,106.75 382.34,124.47 383.10,106.05 383.86,87.62 384.62,69.20 385.38,125.43 386.14,65.40 386.90,96.12 387.66,126.84 388.42,118.81 389.18,110.78 389.94,115.96 390.70,121.13 391.46,92.82 392.22,64.50 392.98,121.89 393.74,56.60 394.50,123.88 395.26,86.59 396.02,49.30 396.78,84.83 397.54,120.36 398.30,98.28 399.06,76.20 399.82,100.67 400.58,125.14 401.34,103.02 402.10,80.90 402.86,104.38 403.62,127.85 404.38,119.00 405.14,110.15 405.90,101.30 406.66,111.03 407.42,120.76 408.18,130.48 408.94,103.29 409.70,76.09 410.46,48.90 411.22,86.86 411.98,124.83 412.74,93.51 413.50,62.20 414.26,94.02 415.02,125.84 415.78,94.87 416.54,63.90 417.30,94.62" stroke="#f00010" stroke-width="0.8" stroke-opacity="0.85" fill="none" stroke-linejoin="round"/>
<g fill="#f8b8c0" fill-opacity="0.7" stroke="#e85060" stroke-width="0.45" stroke-opacity="0.75"><circle cx="265.30" cy="87.82" r="1.45"/><circle cx="266.06" cy="65.40" r="1.45"/><circle cx="266.82" cy="123.00" r="1.45"/><circle cx="267.58" cy="43.50" r="1.45"/><circle cx="268.34" cy="121.41" r="1.45"/><circle cx="269.10" cy="96.00" r="1.45"/><circle cx="269.86" cy="112.42" r="1.45"/><circle cx="270.62" cy="128.83" r="1.45"/><circle cx="271.38" cy="114.17" r="1.45"/><circle cx="272.14" cy="99.50" r="1.45"/><circle cx="272.90" cy="112.00" r="1.45"/><circle cx="273.66" cy="124.51" r="1.45"/><circle cx="274.42" cy="87.85" r="1.45"/><circle cx="275.18" cy="104.82" r="1.45"/><circle cx="275.94" cy="121.79" r="1.45"/><circle cx="276.70" cy="110.09" r="1.45"/><circle cx="277.46" cy="98.40" r="1.45"/><circle cx="278.22" cy="111.81" r="1.45"/><circle cx="278.98" cy="125.23" r="1.45"/><circle cx="279.74" cy="62.80" r="1.45"/><circle cx="280.50" cy="96.34" r="1.45"/><circle cx="281.26" cy="129.87" r="1.45"/><circle cx="282.02" cy="88.24" r="1.45"/><circle cx="282.78" cy="46.60" r="1.45"/><circle cx="283.54" cy="73.43" r="1.45"/><circle cx="284.30" cy="100.26" r="1.45"/><circle cx="285.06" cy="127.09" r="1.45"/><circle cx="285.82" cy="93.29" r="1.45"/><circle cx="286.58" cy="59.50" r="1.45"/><circle cx="287.34" cy="89.94" r="1.45"/><circle cx="288.10" cy="120.38" r="1.45"/><circle cx="288.86" cy="109.36" r="1.45"/><circle cx="289.62" cy="98.33" r="1.45"/><circle cx="290.38" cy="87.30" r="1.45"/><circle cx="291.14" cy="79.10" r="1.45"/><circle cx="291.90" cy="104.87" r="1.45"/><circle cx="292.66" cy="130.63" r="1.45"/><circle cx="293.42" cy="107.42" r="1.45"/><circle cx="294.18" cy="84.21" r="1.45"/><circle cx="294.94" cy="61.00" r="1.45"/><circle cx="295.70" cy="94.57" r="1.45"/><circle cx="296.46" cy="128.15" r="1.45"/><circle cx="297.22" cy="110.62" r="1.45"/><circle cx="297.98" cy="93.10" r="1.45"/><circle cx="298.74" cy="120.89" r="1.45"/><circle cx="299.50" cy="105.84" r="1.45"/><circle cx="300.26" cy="90.80" r="1.45"/><circle cx="301.02" cy="108.73" r="1.45"/><circle cx="301.78" cy="126.65" r="1.45"/><circle cx="302.54" cy="88.38" r="1.45"/><circle cx="303.30" cy="50.10" r="1.45"/><circle cx="304.06" cy="89.76" r="1.45"/><circle cx="304.82" cy="129.42" r="1.45"/><circle cx="305.58" cy="117.74" r="1.45"/><circle cx="306.34" cy="106.07" r="1.45"/><circle cx="307.10" cy="121.36" r="1.45"/><circle cx="307.86" cy="86.93" r="1.45"/><circle cx="308.62" cy="52.50" r="1.45"/><circle cx="309.38" cy="127.96" r="1.45"/><circle cx="310.14" cy="76.20" r="1.45"/><circle cx="310.90" cy="93.10" r="1.45"/><circle cx="311.66" cy="110.00" r="1.45"/><circle cx="312.42" cy="126.90" r="1.45"/><circle cx="313.18" cy="102.70" r="1.45"/><circle cx="313.94" cy="78.50" r="1.45"/><circle cx="314.70" cy="124.60" r="1.45"/><circle cx="315.46" cy="65.40" r="1.45"/><circle cx="316.22" cy="93.98" r="1.45"/><circle cx="316.98" cy="122.55" r="1.45"/><circle cx="317.74" cy="107.87" r="1.45"/><circle cx="318.50" cy="93.18" r="1.45"/><circle cx="319.26" cy="78.50" r="1.45"/><circle cx="320.02" cy="102.33" r="1.45"/><circle cx="320.78" cy="126.16" r="1.45"/><circle cx="321.54" cy="106.73" r="1.45"/><circle cx="322.30" cy="87.30" r="1.45"/><circle cx="323.06" cy="109.09" r="1.45"/><circle cx="323.82" cy="130.89" r="1.45"/><circle cx="324.58" cy="108.09" r="1.45"/><circle cx="325.34" cy="85.30" r="1.45"/><circle cx="326.10" cy="98.61" r="1.45"/><circle cx="326.86" cy="111.92" r="1.45"/><circle cx="327.62" cy="125.23" r="1.45"/><circle cx="328.38" cy="98.95" r="1.45"/><circle cx="329.14" cy="72.68" r="1.45"/><circle cx="329.90" cy="46.40" r="1.45"/><circle cx="330.66" cy="53.00" r="1.45"/><circle cx="331.42" cy="92.21" r="1.45"/><circle cx="332.18" cy="131.42" r="1.45"/><circle cx="332.94" cy="85.91" r="1.45"/><circle cx="333.70" cy="40.40" r="1.45"/><circle cx="334.46" cy="85.57" r="1.45"/><circle cx="335.22" cy="130.73" r="1.45"/><circle cx="335.98" cy="69.40" r="1.45"/><circle cx="336.74" cy="129.63" r="1.45"/><circle cx="337.50" cy="101.90" r="1.45"/><circle cx="338.26" cy="109.21" r="1.45"/><circle cx="339.02" cy="116.53" r="1.45"/><circle cx="339.78" cy="123.84" r="1.45"/><circle cx="340.54" cy="105.69" r="1.45"/><circle cx="341.30" cy="87.55" r="1.45"/><circle cx="342.06" cy="69.40" r="1.45"/><circle cx="342.82" cy="128.56" r="1.45"/><circle cx="343.58" cy="69.40" r="1.45"/><circle cx="344.34" cy="96.64" r="1.45"/><circle cx="345.10" cy="123.88" r="1.45"/><circle cx="345.86" cy="91.69" r="1.45"/><circle cx="346.62" cy="59.50" r="1.45"/><circle cx="347.38" cy="94.72" r="1.45"/><circle cx="348.14" cy="129.94" r="1.45"/><circle cx="348.90" cy="112.24" r="1.45"/><circle cx="349.66" cy="121.90" r="1.45"/><circle cx="350.42" cy="131.55" r="1.45"/><circle cx="351.18" cy="103.88" r="1.45"/><circle cx="351.94" cy="76.20" r="1.45"/><circle cx="352.70" cy="99.95" r="1.45"/><circle cx="353.46" cy="123.70" r="1.45"/><circle cx="354.22" cy="106.48" r="1.45"/><circle cx="354.98" cy="89.27" r="1.45"/><circle cx="355.74" cy="129.29" r="1.45"/><circle cx="356.50" cy="106.25" r="1.45"/><circle cx="357.26" cy="83.20" r="1.45"/><circle cx="358.02" cy="89.00" r="1.45"/><circle cx="358.78" cy="129.09" r="1.45"/><circle cx="359.54" cy="78.30" r="1.45"/><circle cx="360.30" cy="131.67" r="1.45"/><circle cx="361.06" cy="89.00" r="1.45"/><circle cx="361.82" cy="106.70" r="1.45"/><circle cx="362.58" cy="124.40" r="1.45"/><circle cx="363.34" cy="71.30" r="1.45"/><circle cx="364.10" cy="99.83" r="1.45"/><circle cx="364.86" cy="128.36" r="1.45"/><circle cx="365.62" cy="99.23" r="1.45"/><circle cx="366.38" cy="70.10" r="1.45"/><circle cx="367.14" cy="100.17" r="1.45"/><circle cx="367.90" cy="130.25" r="1.45"/><circle cx="368.66" cy="115.47" r="1.45"/><circle cx="369.42" cy="100.70" r="1.45"/><circle cx="370.18" cy="112.54" r="1.45"/><circle cx="370.94" cy="124.38" r="1.45"/><circle cx="371.70" cy="115.35" r="1.45"/><circle cx="372.46" cy="106.33" r="1.45"/><circle cx="373.22" cy="97.30" r="1.45"/><circle cx="373.98" cy="111.99" r="1.45"/><circle cx="374.74" cy="126.67" r="1.45"/><circle cx="375.50" cy="93.64" r="1.45"/><circle cx="376.26" cy="60.60" r="1.45"/><circle cx="377.02" cy="95.33" r="1.45"/><circle cx="377.78" cy="130.06" r="1.45"/><circle cx="378.54" cy="110.47" r="1.45"/><circle cx="379.30" cy="90.89" r="1.45"/><circle cx="380.06" cy="71.30" r="1.45"/><circle cx="380.82" cy="89.02" r="1.45"/><circle cx="381.58" cy="106.75" r="1.45"/><circle cx="382.34" cy="124.47" r="1.45"/><circle cx="383.10" cy="106.05" r="1.45"/><circle cx="383.86" cy="87.62" r="1.45"/><circle cx="384.62" cy="69.20" r="1.45"/><circle cx="385.38" cy="125.43" r="1.45"/><circle cx="386.14" cy="65.40" r="1.45"/><circle cx="386.90" cy="96.12" r="1.45"/><circle cx="387.66" cy="126.84" r="1.45"/><circle cx="388.42" cy="118.81" r="1.45"/><circle cx="389.18" cy="110.78" r="1.45"/><circle cx="389.94" cy="115.96" r="1.45"/><circle cx="390.70" cy="121.13" r="1.45"/><circle cx="391.46" cy="92.82" r="1.45"/><circle cx="392.22" cy="64.50" r="1.45"/><circle cx="392.98" cy="121.89" r="1.45"/><circle cx="393.74" cy="56.60" r="1.45"/><circle cx="394.50" cy="123.88" r="1.45"/><circle cx="395.26" cy="86.59" r="1.45"/><circle cx="396.02" cy="49.30" r="1.45"/><circle cx="396.78" cy="84.83" r="1.45"/><circle cx="397.54" cy="120.36" r="1.45"/><circle cx="398.30" cy="98.28" r="1.45"/><circle cx="399.06" cy="76.20" r="1.45"/><circle cx="399.82" cy="100.67" r="1.45"/><circle cx="400.58" cy="125.14" r="1.45"/><circle cx="401.34" cy="103.02" r="1.45"/><circle cx="402.10" cy="80.90" r="1.45"/><circle cx="402.86" cy="104.38" r="1.45"/><circle cx="403.62" cy="127.85" r="1.45"/><circle cx="404.38" cy="119.00" r="1.45"/><circle cx="405.14" cy="110.15" r="1.45"/><circle cx="405.90" cy="101.30" r="1.45"/><circle cx="406.66" cy="111.03" r="1.45"/><circle cx="407.42" cy="120.76" r="1.45"/><circle cx="408.18" cy="130.48" r="1.45"/><circle cx="408.94" cy="103.29" r="1.45"/><circle cx="409.70" cy="76.09" r="1.45"/><circle cx="410.46" cy="48.90" r="1.45"/><circle cx="411.22" cy="86.86" r="1.45"/><circle cx="411.98" cy="124.83" r="1.45"/><circle cx="412.74" cy="93.51" r="1.45"/><circle cx="413.50" cy="62.20" r="1.45"/><circle cx="414.26" cy="94.02" r="1.45"/><circle cx="415.02" cy="125.84" r="1.45"/><circle cx="415.78" cy="94.87" r="1.45"/><circle cx="416.54" cy="63.90" r="1.45"/><circle cx="417.30" cy="94.62" r="1.45"/></g>
</g>
<g>
<path d="M496.80 151.80V150.62M497.56 151.80V149.49M498.32 151.80V150.26M499.08 151.80V150.01M499.84 151.80V149.92M500.60 151.80V150.65M501.36 151.80V145.28M502.12 151.80V149.57M502.88 151.80V150.19M503.64 151.80V148.75M504.40 151.80V147.54M505.16 151.80V150.70M505.92 151.80V150.70M506.68 151.80V149.83M507.44 151.80V150.70M508.20 151.80V148.59M508.96 151.80V149.98M509.72 151.80V150.70M510.48 151.80V150.63M511.24 151.80V150.70M512.00 151.80V150.70M512.76 151.80V149.49M513.52 151.80V150.61M514.28 151.80V150.06M515.04 151.80V149.80M515.80 151.80V149.68M516.56 151.80V150.20M517.32 151.80V149.80M518.08 151.80V150.42M518.84 151.80V150.70M519.60 151.80V150.70M520.36 151.80V143.37M521.12 151.80V150.70M521.88 151.80V149.58M522.64 151.80V148.16M523.40 151.80V150.70M524.16 151.80V147.88M524.92 151.80V150.63M525.68 151.80V150.70M526.44 151.80V150.38M527.20 151.80V150.63M527.96 151.80V149.22M528.72 151.80V147.95M529.48 151.80V148.78M530.24 151.80V150.43M531.00 151.80V150.50M531.76 151.80V150.47M532.52 151.80V149.98M533.28 151.80V150.52M534.04 151.80V150.70M534.80 151.80V150.70M535.56 151.80V150.70M536.32 151.80V149.46M537.08 151.80V147.59M537.84 151.80V150.65M538.60 151.80V150.23M539.36 151.80V150.70M540.12 151.80V150.70M540.88 151.80V150.70M541.64 151.80V147.19M542.40 151.80V150.09M543.16 151.80V150.70M543.92 151.80V149.26M544.68 151.80V148.67M545.44 151.80V150.35M546.20 151.80V150.70M546.96 151.80V150.70M547.72 151.80V144.87M548.48 151.80V150.70M549.24 151.80V150.48M550.00 151.80V150.70M550.76 151.80V150.30M551.52 151.80V150.62M552.28 151.80V150.61M553.04 151.80V150.70M553.80 151.80V149.93M554.56 151.80V150.70M555.32 151.80V147.16M556.08 151.80V150.17M556.84 151.80V150.29M557.60 151.80V150.70M558.36 151.80V150.70M559.12 151.80V148.86M559.88 151.80V149.62M560.64 151.80V148.38M561.40 151.80V148.33M562.16 151.80V149.99M562.92 151.80V150.11M563.68 151.80V149.72M564.44 151.80V150.70M565.20 151.80V150.26M565.96 151.80V150.70M566.72 151.80V150.70M567.48 151.80V150.29M568.24 151.80V150.48M569.00 151.80V148.95M569.76 151.80V150.70M570.52 151.80V150.48M571.28 151.80V150.70M572.04 151.80V149.50M572.80 151.80V146.40M573.56 151.80V150.70M574.32 151.80V150.70M575.08 151.80V148.87M575.84 151.80V150.70M576.60 151.80V150.25M577.36 151.80V150.70M578.12 151.80V150.66M578.88 151.80V145.90M579.64 151.80V150.70M580.40 151.80V150.14M581.16 151.80V150.49M581.92 151.80V147.91M582.68 151.80V150.31M583.44 151.80V150.70M584.20 151.80V149.33M584.96 151.80V150.06M585.72 151.80V150.63M586.48 151.80V149.26M587.24 151.80V150.70M588.00 151.80V150.70M588.76 151.80V150.11M589.52 151.80V150.49M590.28 151.80V149.72M591.04 151.80V149.78M591.80 151.80V150.66M592.56 151.80V149.25M593.32 151.80V149.05M594.08 151.80V150.36M594.84 151.80V149.69M595.60 151.80V150.43M596.36 151.80V150.70M597.12 151.80V149.43M597.88 151.80V150.70M598.64 151.80V150.70M599.40 151.80V147.91M600.16 151.80V149.50M600.92 151.80V148.71M601.68 151.80V149.82M602.44 151.80V150.45M603.20 151.80V150.70M603.96 151.80V149.63M604.72 151.80V150.21M605.48 151.80V149.83M606.24 151.80V149.59M607.00 151.80V150.59M607.76 151.80V149.56M608.52 151.80V149.66M609.28 151.80V149.25M610.04 151.80V149.35M610.80 151.80V150.20M611.56 151.80V150.70M612.32 151.80V132.54M613.08 151.80V139.72M613.84 151.80V150.18M614.60 151.80V132.15M615.36 151.80V134.99M616.12 151.80V143.75M616.88 151.80V144.45M617.64 151.80V147.54M618.40 151.80V137.26M619.16 151.80V138.51M619.92 151.80V141.43M620.68 151.80V147.21M621.44 151.80V144.18M622.20 151.80V145.73M622.96 151.80V150.33M623.72 151.80V147.39M624.48 151.80V147.67M625.24 151.80V137.45M626.00 151.80V130.73M626.76 151.80V135.17M627.52 151.80V149.57M628.28 151.80V141.89M629.04 151.80V147.34M629.80 151.80V136.69M630.56 151.80V143.23M631.32 151.80V144.10M632.08 151.80V147.51M632.84 151.80V143.15M633.60 151.80V142.63M634.36 151.80V147.91M635.12 151.80V137.76M635.88 151.80V139.19M636.64 151.80V144.80M637.40 151.80V150.70M638.16 151.80V133.38M638.92 151.80V139.43M639.68 151.80V144.91M640.44 151.80V143.12M641.20 151.80V143.78M641.96 151.80V139.45M642.72 151.80V142.77M643.48 151.80V144.87M644.24 151.80V143.24M645.00 151.80V149.45M645.76 151.80V142.16M646.52 151.80V136.15M647.28 151.80V142.24M648.04 151.80V138.95M648.80 151.80V143.59" stroke="#ff7a00" stroke-width="0.7" stroke-opacity="1" fill="none"/>
<polyline points="496.80,97.54 497.56,53.20 498.32,77.07 499.08,100.94 499.84,124.80 500.60,105.27 501.36,89.07 502.12,75.23 502.88,92.78 503.64,100.53 504.40,111.03 505.16,99.53 505.92,81.63 506.68,100.53 507.44,120.51 508.20,86.78 508.96,110.57 509.72,96.22 510.48,67.64 511.24,87.59 512.00,104.66 512.76,122.62 513.52,110.12 514.28,98.65 515.04,86.33 515.80,100.16 516.56,110.40 517.32,118.56 518.08,103.18 518.84,96.52 519.60,89.99 520.36,108.25 521.12,93.87 521.88,112.75 522.64,92.97 523.40,80.24 524.16,96.11 524.92,112.30 525.68,105.06 526.44,99.89 527.20,93.03 527.96,102.03 528.72,116.73 529.48,100.58 530.24,87.93 531.00,100.68 531.76,119.88 532.52,105.03 533.28,91.90 534.04,103.42 534.80,111.61 535.56,99.38 536.32,86.00 537.08,95.73 537.84,100.22 538.60,104.64 539.36,108.95 540.12,104.32 540.88,99.69 541.64,94.03 542.40,99.69 543.16,104.31 543.92,108.93 544.68,108.45 545.44,98.97 546.20,106.08 546.96,109.44 547.72,103.58 548.48,97.72 549.24,91.86 550.00,92.05 550.76,101.63 551.52,111.15 552.28,94.70 553.04,82.18 553.80,93.87 554.56,114.30 555.32,91.99 556.08,97.79 556.84,105.52 557.60,108.70 558.36,99.17 559.12,71.50 559.88,98.46 560.64,116.40 561.40,106.69 562.16,96.29 562.92,89.77 563.68,96.81 564.44,105.63 565.20,113.19 565.96,106.89 566.72,98.71 567.48,94.92 568.24,102.20 569.00,119.72 569.76,104.47 570.52,98.13 571.28,107.80 572.04,120.26 572.80,94.28 573.56,59.47 574.32,82.46 575.08,104.57 575.84,128.44 576.60,106.30 577.36,87.83 578.12,103.35 578.88,115.38 579.64,102.01 580.40,87.31 581.16,65.92 581.92,127.45 582.68,97.60 583.44,67.45 584.20,90.39 584.96,98.77 585.72,104.94 586.48,107.76 587.24,98.31 588.00,88.86 588.76,111.64 589.52,78.88 590.28,92.71 591.04,105.41 591.80,117.76 592.56,106.86 593.32,104.00 594.08,101.35 594.84,106.46 595.60,110.55 596.36,111.05 597.12,105.14 597.88,102.53 598.64,106.91 599.40,116.33 600.16,123.48 600.92,111.54 601.68,97.70 602.44,86.48 603.20,116.12 603.96,101.88 604.72,83.87 605.48,95.56 606.24,102.77 607.00,114.94 607.76,126.87 608.52,104.91 609.28,82.95 610.04,60.99 610.80,94.93 611.56,126.31 612.32,96.97 613.08,77.00 613.84,82.15 614.60,100.17 615.36,116.98 616.12,102.14 616.88,90.73 617.64,82.51 618.40,87.27 619.16,99.68 619.92,113.37 620.68,108.33 621.44,106.38 622.20,103.94 622.96,108.97 623.72,109.91 624.48,113.06 625.24,95.77 626.00,73.81 626.76,95.65 627.52,120.99 628.28,81.96 629.04,103.28 629.80,125.26 630.56,116.86 631.32,108.46 632.08,114.62 632.84,123.58 633.60,96.65 634.36,72.73 635.12,87.72 635.88,105.75 636.64,127.07 637.40,111.00 638.16,96.78 638.92,93.16 639.68,88.44 640.44,98.68 641.20,119.95 641.96,118.49 642.72,110.34 643.48,115.91 644.24,121.48 645.00,119.43 645.76,98.94 646.52,87.48 647.28,115.51 648.04,98.63 648.80,72.07" stroke="#0010ff" stroke-width="0.7" stroke-opacity="0.8" fill="none" stroke-linejoin="round"/>
<polyline points="496.80,95.53 497.56,50.70 498.32,75.83 499.08,100.95 499.84,126.08 500.60,106.72 501.36,87.36 502.12,68.00 502.88,75.60 503.64,100.22 504.40,124.85 505.16,98.67 505.92,72.50 506.68,100.47 507.44,128.43 508.20,67.50 508.96,125.94 509.72,95.92 510.48,65.90 511.24,85.39 512.00,104.87 512.76,124.36 513.52,111.38 514.28,98.39 515.04,85.41 515.80,99.95 516.56,114.49 517.32,129.03 518.08,108.89 518.84,88.74 519.60,68.60 520.36,125.95 521.12,78.00 521.88,126.18 522.64,75.00 523.40,54.00 524.16,90.47 524.92,126.93 525.68,112.52 526.44,98.11 527.20,83.70 527.96,105.23 528.72,126.77 529.48,100.43 530.24,74.10 531.00,100.71 531.76,127.32 532.52,105.84 533.28,84.37 534.04,105.21 534.80,126.05 535.56,98.08 536.32,70.10 537.08,84.64 537.84,99.19 538.60,113.73 539.36,128.27 540.12,112.85 540.88,97.42 541.64,82.00 542.40,97.41 543.16,112.81 543.92,128.22 544.68,112.98 545.44,97.74 546.20,113.83 546.96,129.92 547.72,110.38 548.48,90.84 549.24,71.30 550.00,80.90 550.76,103.57 551.52,126.24 552.28,86.32 553.04,46.40 553.80,85.89 554.56,125.39 555.32,79.10 556.08,95.21 556.84,111.33 557.60,127.44 558.36,98.42 559.12,69.40 559.88,97.03 560.64,124.65 561.40,109.27 562.16,93.88 562.92,78.50 563.68,93.70 564.44,108.91 565.20,124.11 565.96,109.91 566.72,95.70 567.48,81.50 568.24,104.04 569.00,126.58 569.76,109.40 570.52,92.21 571.28,110.85 572.04,129.49 572.80,93.40 573.56,57.30 574.32,81.50 575.08,105.70 575.84,129.90 576.60,106.59 577.36,83.28 578.12,105.83 578.88,128.38 579.64,105.16 580.40,81.93 581.16,58.70 581.92,128.86 582.68,97.28 583.44,65.70 584.20,81.50 584.96,95.77 585.72,110.05 586.48,124.32 587.24,92.81 588.00,61.30 588.76,125.29 589.52,65.10 590.28,86.55 591.04,108.00 591.80,129.46 592.56,120.62 593.32,111.79 594.08,102.96 594.84,115.81 595.60,128.66 596.36,120.58 597.12,112.50 597.88,104.42 598.64,113.02 599.40,121.63 600.16,130.23 600.92,112.62 601.68,95.01 602.44,77.40 603.20,126.79 603.96,102.39 604.72,78.00 605.48,90.56 606.24,103.13 607.00,115.69 607.76,128.25 608.52,105.13 609.28,82.02 610.04,58.90 610.80,93.28 611.56,127.66 612.32,96.78 613.08,65.90 613.84,71.00 614.60,100.02 615.36,129.04 616.12,103.83 616.88,78.61 617.64,53.40 618.40,66.90 619.16,98.22 619.92,129.54 620.68,123.56 621.44,117.57 622.20,111.58 622.96,115.88 623.72,120.18 624.48,124.48 625.24,89.84 626.00,55.20 626.76,90.26 627.52,125.31 628.28,80.30 629.04,103.43 629.80,126.56 630.56,117.71 631.32,108.87 632.08,119.08 632.84,129.28 633.60,96.04 634.36,62.80 635.12,85.03 635.88,107.25 636.64,129.48 637.40,112.32 638.16,95.16 638.92,78.00 639.68,59.90 640.44,94.04 641.20,128.17 641.96,119.51 642.72,110.85 643.48,116.71 644.24,122.58 645.00,128.44 645.76,97.97 646.52,67.50 647.28,128.93 648.04,96.71 648.80,64.50" stroke="#f00010" stroke-width="0.8" stroke-opacity="0.85" fill="none" stroke-linejoin="round"/>
<g fill="#f8b8c0" fill-opacity="0.7" stroke="#e85060" stroke-width="0.45" stroke-opacity="0.75"><circle cx="496.80" cy="95.53" r="1.45"/><circle cx="497.56" cy="50.70" r="1.45"/><circle cx="498.32" cy="75.83" r="1.45"/><circle cx="499.08" cy="100.95" r="1.45"/><circle cx="499.84" cy="126.08" r="1.45"/><circle cx="500.60" cy="106.72" r="1.45"/><circle cx="501.36" cy="87.36" r="1.45"/><circle cx="502.12" cy="68.00" r="1.45"/><circle cx="502.88" cy="75.60" r="1.45"/><circle cx="503.64" cy="100.22" r="1.45"/><circle cx="504.40" cy="124.85" r="1.45"/><circle cx="505.16" cy="98.67" r="1.45"/><circle cx="505.92" cy="72.50" r="1.45"/><circle cx="506.68" cy="100.47" r="1.45"/><circle cx="507.44" cy="128.43" r="1.45"/><circle cx="508.20" cy="67.50" r="1.45"/><circle cx="508.96" cy="125.94" r="1.45"/><circle cx="509.72" cy="95.92" r="1.45"/><circle cx="510.48" cy="65.90" r="1.45"/><circle cx="511.24" cy="85.39" r="1.45"/><circle cx="512.00" cy="104.87" r="1.45"/><circle cx="512.76" cy="124.36" r="1.45"/><circle cx="513.52" cy="111.38" r="1.45"/><circle cx="514.28" cy="98.39" r="1.45"/><circle cx="515.04" cy="85.41" r="1.45"/><circle cx="515.80" cy="99.95" r="1.45"/><circle cx="516.56" cy="114.49" r="1.45"/><circle cx="517.32" cy="129.03" r="1.45"/><circle cx="518.08" cy="108.89" r="1.45"/><circle cx="518.84" cy="88.74" r="1.45"/><circle cx="519.60" cy="68.60" r="1.45"/><circle cx="520.36" cy="125.95" r="1.45"/><circle cx="521.12" cy="78.00" r="1.45"/><circle cx="521.88" cy="126.18" r="1.45"/><circle cx="522.64" cy="75.00" r="1.45"/><circle cx="523.40" cy="54.00" r="1.45"/><circle cx="524.16" cy="90.47" r="1.45"/><circle cx="524.92" cy="126.93" r="1.45"/><circle cx="525.68" cy="112.52" r="1.45"/><circle cx="526.44" cy="98.11" r="1.45"/><circle cx="527.20" cy="83.70" r="1.45"/><circle cx="527.96" cy="105.23" r="1.45"/><circle cx="528.72" cy="126.77" r="1.45"/><circle cx="529.48" cy="100.43" r="1.45"/><circle cx="530.24" cy="74.10" r="1.45"/><circle cx="531.00" cy="100.71" r="1.45"/><circle cx="531.76" cy="127.32" r="1.45"/><circle cx="532.52" cy="105.84" r="1.45"/><circle cx="533.28" cy="84.37" r="1.45"/><circle cx="534.04" cy="105.21" r="1.45"/><circle cx="534.80" cy="126.05" r="1.45"/><circle cx="535.56" cy="98.08" r="1.45"/><circle cx="536.32" cy="70.10" r="1.45"/><circle cx="537.08" cy="84.64" r="1.45"/><circle cx="537.84" cy="99.19" r="1.45"/><circle cx="538.60" cy="113.73" r="1.45"/><circle cx="539.36" cy="128.27" r="1.45"/><circle cx="540.12" cy="112.85" r="1.45"/><circle cx="540.88" cy="97.42" r="1.45"/><circle cx="541.64" cy="82.00" r="1.45"/><circle cx="542.40" cy="97.41" r="1.45"/><circle cx="543.16" cy="112.81" r="1.45"/><circle cx="543.92" cy="128.22" r="1.45"/><circle cx="544.68" cy="112.98" r="1.45"/><circle cx="545.44" cy="97.74" r="1.45"/><circle cx="546.20" cy="113.83" r="1.45"/><circle cx="546.96" cy="129.92" r="1.45"/><circle cx="547.72" cy="110.38" r="1.45"/><circle cx="548.48" cy="90.84" r="1.45"/><circle cx="549.24" cy="71.30" r="1.45"/><circle cx="550.00" cy="80.90" r="1.45"/><circle cx="550.76" cy="103.57" r="1.45"/><circle cx="551.52" cy="126.24" r="1.45"/><circle cx="552.28" cy="86.32" r="1.45"/><circle cx="553.04" cy="46.40" r="1.45"/><circle cx="553.80" cy="85.89" r="1.45"/><circle cx="554.56" cy="125.39" r="1.45"/><circle cx="555.32" cy="79.10" r="1.45"/><circle cx="556.08" cy="95.21" r="1.45"/><circle cx="556.84" cy="111.33" r="1.45"/><circle cx="557.60" cy="127.44" r="1.45"/><circle cx="558.36" cy="98.42" r="1.45"/><circle cx="559.12" cy="69.40" r="1.45"/><circle cx="559.88" cy="97.03" r="1.45"/><circle cx="560.64" cy="124.65" r="1.45"/><circle cx="561.40" cy="109.27" r="1.45"/><circle cx="562.16" cy="93.88" r="1.45"/><circle cx="562.92" cy="78.50" r="1.45"/><circle cx="563.68" cy="93.70" r="1.45"/><circle cx="564.44" cy="108.91" r="1.45"/><circle cx="565.20" cy="124.11" r="1.45"/><circle cx="565.96" cy="109.91" r="1.45"/><circle cx="566.72" cy="95.70" r="1.45"/><circle cx="567.48" cy="81.50" r="1.45"/><circle cx="568.24" cy="104.04" r="1.45"/><circle cx="569.00" cy="126.58" r="1.45"/><circle cx="569.76" cy="109.40" r="1.45"/><circle cx="570.52" cy="92.21" r="1.45"/><circle cx="571.28" cy="110.85" r="1.45"/><circle cx="572.04" cy="129.49" r="1.45"/><circle cx="572.80" cy="93.40" r="1.45"/><circle cx="573.56" cy="57.30" r="1.45"/><circle cx="574.32" cy="81.50" r="1.45"/><circle cx="575.08" cy="105.70" r="1.45"/><circle cx="575.84" cy="129.90" r="1.45"/><circle cx="576.60" cy="106.59" r="1.45"/><circle cx="577.36" cy="83.28" r="1.45"/><circle cx="578.12" cy="105.83" r="1.45"/><circle cx="578.88" cy="128.38" r="1.45"/><circle cx="579.64" cy="105.16" r="1.45"/><circle cx="580.40" cy="81.93" r="1.45"/><circle cx="581.16" cy="58.70" r="1.45"/><circle cx="581.92" cy="128.86" r="1.45"/><circle cx="582.68" cy="97.28" r="1.45"/><circle cx="583.44" cy="65.70" r="1.45"/><circle cx="584.20" cy="81.50" r="1.45"/><circle cx="584.96" cy="95.77" r="1.45"/><circle cx="585.72" cy="110.05" r="1.45"/><circle cx="586.48" cy="124.32" r="1.45"/><circle cx="587.24" cy="92.81" r="1.45"/><circle cx="588.00" cy="61.30" r="1.45"/><circle cx="588.76" cy="125.29" r="1.45"/><circle cx="589.52" cy="65.10" r="1.45"/><circle cx="590.28" cy="86.55" r="1.45"/><circle cx="591.04" cy="108.00" r="1.45"/><circle cx="591.80" cy="129.46" r="1.45"/><circle cx="592.56" cy="120.62" r="1.45"/><circle cx="593.32" cy="111.79" r="1.45"/><circle cx="594.08" cy="102.96" r="1.45"/><circle cx="594.84" cy="115.81" r="1.45"/><circle cx="595.60" cy="128.66" r="1.45"/><circle cx="596.36" cy="120.58" r="1.45"/><circle cx="597.12" cy="112.50" r="1.45"/><circle cx="597.88" cy="104.42" r="1.45"/><circle cx="598.64" cy="113.02" r="1.45"/><circle cx="599.40" cy="121.63" r="1.45"/><circle cx="600.16" cy="130.23" r="1.45"/><circle cx="600.92" cy="112.62" r="1.45"/><circle cx="601.68" cy="95.01" r="1.45"/><circle cx="602.44" cy="77.40" r="1.45"/><circle cx="603.20" cy="126.79" r="1.45"/><circle cx="603.96" cy="102.39" r="1.45"/><circle cx="604.72" cy="78.00" r="1.45"/><circle cx="605.48" cy="90.56" r="1.45"/><circle cx="606.24" cy="103.13" r="1.45"/><circle cx="607.00" cy="115.69" r="1.45"/><circle cx="607.76" cy="128.25" r="1.45"/><circle cx="608.52" cy="105.13" r="1.45"/><circle cx="609.28" cy="82.02" r="1.45"/><circle cx="610.04" cy="58.90" r="1.45"/><circle cx="610.80" cy="93.28" r="1.45"/><circle cx="611.56" cy="127.66" r="1.45"/><circle cx="612.32" cy="96.78" r="1.45"/><circle cx="613.08" cy="65.90" r="1.45"/><circle cx="613.84" cy="71.00" r="1.45"/><circle cx="614.60" cy="100.02" r="1.45"/><circle cx="615.36" cy="129.04" r="1.45"/><circle cx="616.12" cy="103.83" r="1.45"/><circle cx="616.88" cy="78.61" r="1.45"/><circle cx="617.64" cy="53.40" r="1.45"/><circle cx="618.40" cy="66.90" r="1.45"/><circle cx="619.16" cy="98.22" r="1.45"/><circle cx="619.92" cy="129.54" r="1.45"/><circle cx="620.68" cy="123.56" r="1.45"/><circle cx="621.44" cy="117.57" r="1.45"/><circle cx="622.20" cy="111.58" r="1.45"/><circle cx="622.96" cy="115.88" r="1.45"/><circle cx="623.72" cy="120.18" r="1.45"/><circle cx="624.48" cy="124.48" r="1.45"/><circle cx="625.24" cy="89.84" r="1.45"/><circle cx="626.00" cy="55.20" r="1.45"/><circle cx="626.76" cy="90.26" r="1.45"/><circle cx="627.52" cy="125.31" r="1.45"/><circle cx="628.28" cy="80.30" r="1.45"/><circle cx="629.04" cy="103.43" r="1.45"/><circle cx="629.80" cy="126.56" r="1.45"/><circle cx="630.56" cy="117.71" r="1.45"/><circle cx="631.32" cy="108.87" r="1.45"/><circle cx="632.08" cy="119.08" r="1.45"/><circle cx="632.84" cy="129.28" r="1.45"/><circle cx="633.60" cy="96.04" r="1.45"/><circle cx="634.36" cy="62.80" r="1.45"/><circle cx="635.12" cy="85.03" r="1.45"/><circle cx="635.88" cy="107.25" r="1.45"/><circle cx="636.64" cy="129.48" r="1.45"/><circle cx="637.40" cy="112.32" r="1.45"/><circle cx="638.16" cy="95.16" r="1.45"/><circle cx="638.92" cy="78.00" r="1.45"/><circle cx="639.68" cy="59.90" r="1.45"/><circle cx="640.44" cy="94.04" r="1.45"/><circle cx="641.20" cy="128.17" r="1.45"/><circle cx="641.96" cy="119.51" r="1.45"/><circle cx="642.72" cy="110.85" r="1.45"/><circle cx="643.48" cy="116.71" r="1.45"/><circle cx="644.24" cy="122.58" r="1.45"/><circle cx="645.00" cy="128.44" r="1.45"/><circle cx="645.76" cy="97.97" r="1.45"/><circle cx="646.52" cy="67.50" r="1.45"/><circle cx="647.28" cy="128.93" r="1.45"/><circle cx="648.04" cy="96.71" r="1.45"/><circle cx="648.80" cy="64.50" r="1.45"/></g>
</g>
<g>
<path d="M34.20 337.20V335.18M34.96 337.20V318.66M35.72 337.20V320.55M36.48 337.20V335.06M37.24 337.20V331.61M38.00 337.20V336.10M38.76 337.20V336.10M39.52 337.20V324.85M40.28 337.20V325.00M41.04 337.20V329.79M41.80 337.20V330.26M42.56 337.20V324.97M43.32 337.20V329.52M44.08 337.20V336.10M44.84 337.20V333.36M45.60 337.20V330.89M46.36 337.20V328.75M47.12 337.20V336.10M47.88 337.20V333.25M48.64 337.20V331.78M49.40 337.20V328.74M50.16 337.20V328.79M50.92 337.20V330.85M51.68 337.20V336.10M52.44 337.20V328.53M53.20 337.20V336.10M53.96 337.20V334.10M54.72 337.20V328.02M55.48 337.20V321.39M56.24 337.20V331.34M57.00 337.20V336.10M57.76 337.20V321.33M58.52 337.20V330.17M59.28 337.20V335.92M60.04 337.20V331.87M60.80 337.20V321.38M61.56 337.20V334.81M62.32 337.20V335.32M63.08 337.20V334.44M63.84 337.20V325.69M64.60 337.20V334.07M65.36 337.20V327.90M66.12 337.20V329.05M66.88 337.20V328.00M67.64 337.20V332.49M68.40 337.20V334.57M69.16 337.20V332.44M69.92 337.20V328.45M70.68 337.20V335.11M71.44 337.20V329.66M72.20 337.20V321.00M72.96 337.20V319.29M73.72 337.20V321.85M74.48 337.20V335.76M75.24 337.20V335.55M76.00 337.20V334.23M76.76 337.20V331.20M77.52 337.20V325.67M78.28 337.20V332.99M79.04 337.20V334.87M79.80 337.20V326.79M80.56 337.20V329.86M81.32 337.20V325.60M82.08 337.20V328.84M82.84 337.20V317.94M83.60 337.20V318.46M84.36 337.20V328.04M85.12 337.20V326.91M85.88 337.20V318.97M86.64 337.20V333.24M87.40 337.20V333.19M88.16 337.20V333.83M88.92 337.20V328.98M89.68 337.20V336.05M90.44 337.20V318.69M91.20 337.20V318.55M91.96 337.20V328.52M92.72 337.20V333.53M93.48 337.20V330.28M94.24 337.20V326.44M95.00 337.20V336.10M95.76 337.20V333.30M96.52 337.20V334.46M97.28 337.20V330.49M98.04 337.20V329.36M98.80 337.20V329.25M99.56 337.20V331.18M100.32 337.20V328.79M101.08 337.20V336.10M101.84 337.20V335.38M102.60 337.20V329.37M103.36 337.20V336.10M104.12 337.20V324.31M104.88 337.20V321.06M105.64 337.20V321.67M106.40 337.20V332.87M107.16 337.20V328.25M107.92 337.20V333.41M108.68 337.20V320.94M109.44 337.20V328.27M110.20 337.20V335.75M110.96 337.20V320.71M111.72 337.20V328.94M112.48 337.20V316.79M113.24 337.20V329.07M114.00 337.20V331.94M114.76 337.20V330.05M115.52 337.20V334.98M116.28 337.20V328.49M117.04 337.20V324.40M117.80 337.20V331.32M118.56 337.20V328.64M119.32 337.20V334.22M120.08 337.20V324.05M120.84 337.20V331.32M121.60 337.20V331.65M122.36 337.20V328.64M123.12 337.20V335.46M123.88 337.20V329.62M124.64 337.20V332.21M125.40 337.20V336.10M126.16 337.20V332.30M126.92 337.20V335.15M127.68 337.20V335.08M128.44 337.20V329.15M129.20 337.20V334.93M129.96 337.20V317.27M130.72 337.20V332.33M131.48 337.20V330.30M132.24 337.20V334.23M133.00 337.20V330.78M133.76 337.20V327.97M134.52 337.20V334.71M135.28 337.20V332.18M136.04 337.20V335.51M136.80 337.20V335.34M137.56 337.20V323.44M138.32 337.20V336.10M139.08 337.20V336.10M139.84 337.20V336.10M140.60 337.20V317.33M141.36 337.20V323.81M142.12 337.20V331.49M142.88 337.20V335.27M143.64 337.20V326.06M144.40 337.20V335.11M145.16 337.20V317.27M145.92 337.20V330.02M146.68 337.20V329.59M147.44 337.20V328.59M148.20 337.20V328.29M148.96 337.20V328.89M149.72 337.20V328.92M150.48 337.20V333.06M151.24 337.20V335.53M152.00 337.20V334.70M152.76 337.20V327.93M153.52 337.20V330.46M154.28 337.20V333.06M155.04 337.20V330.82M155.80 337.20V335.68M156.56 337.20V335.58M157.32 337.20V329.33M158.08 337.20V335.71M158.84 337.20V318.67M159.60 337.20V330.91M160.36 337.20V328.08M161.12 337.20V331.07M161.88 337.20V331.06M162.64 337.20V330.10M163.40 337.20V327.93M164.16 337.20V334.66M164.92 337.20V327.90M165.68 337.20V335.92M166.44 337.20V334.56M167.20 337.20V335.89M167.96 337.20V328.74M168.72 337.20V334.97M169.48 337.20V330.26M170.24 337.20V334.82M171.00 337.20V328.89M171.76 337.20V336.10M172.52 337.20V334.08M173.28 337.20V330.07M174.04 337.20V334.40M174.80 337.20V333.09M175.56 337.20V332.35M176.32 337.20V328.28M177.08 337.20V333.56M177.84 337.20V333.22M178.60 337.20V318.65M179.36 337.20V331.29M180.12 337.20V335.22M180.88 337.20V333.00M181.64 337.20V321.19M182.40 337.20V332.98M183.16 337.20V330.02M183.92 337.20V335.83M184.68 337.20V333.82M185.44 337.20V317.15M186.20 337.20V320.69" stroke="#ff7a00" stroke-width="0.7" stroke-opacity="1" fill="none"/>
<polyline points="34.20,271.46 34.96,285.34 35.72,293.09 36.48,253.24 37.24,248.68 38.00,276.72 38.76,296.78 39.52,261.27 40.28,300.74 41.04,261.12 41.80,311.56 42.56,286.31 43.32,264.43 44.08,287.60 44.84,306.36 45.60,283.98 46.36,310.31 47.12,248.56 47.88,248.84 48.64,277.49 49.40,307.84 50.16,280.12 50.92,259.43 51.68,281.60 52.44,294.29 53.20,277.47 53.96,288.18 54.72,276.63 55.48,254.12 56.24,300.10 57.00,268.17 57.76,283.19 58.52,294.88 59.28,274.56 60.04,262.56 60.80,286.52 61.56,263.13 62.32,268.53 63.08,283.61 63.84,308.27 64.60,283.92 65.36,275.57 66.12,268.52 66.88,270.54 67.64,278.97 68.40,286.35 69.16,277.76 69.92,269.16 70.68,287.19 71.44,263.73 72.20,271.24 72.96,278.74 73.72,291.31 74.48,281.05 75.24,258.50 76.00,282.14 76.76,305.34 77.52,273.31 78.28,240.26 79.04,276.13 79.80,313.45 80.56,290.01 81.32,269.01 82.08,278.55 82.84,284.98 83.60,293.75 84.36,273.85 85.12,260.02 85.88,294.64 86.64,277.61 87.40,251.94 88.16,234.82 88.92,250.46 89.68,253.31 90.44,280.47 91.20,311.11 91.96,274.58 92.72,250.49 93.48,266.40 94.24,288.07 95.00,313.77 95.76,282.66 96.52,253.69 97.28,271.97 98.04,287.36 98.80,308.56 99.56,288.77 100.32,268.77 101.08,248.56 101.84,241.63 102.60,310.57 103.36,251.35 104.12,272.15 104.88,280.67 105.64,288.09 106.40,281.09 107.16,274.10 107.92,267.10 108.68,242.39 109.44,270.90 110.20,312.74 110.96,272.42 111.72,248.21 112.48,272.42 113.24,297.73 114.00,284.55 114.76,259.97 115.52,233.65 116.28,253.03 117.04,260.15 117.80,307.80 118.56,254.60 119.32,304.07 120.08,275.12 120.84,237.83 121.60,275.80 122.36,297.03 123.12,253.12 123.88,292.72 124.64,265.19 125.40,274.92 126.16,286.85 126.92,303.04 127.68,280.66 128.44,247.52 129.20,279.71 129.96,311.99 130.72,284.57 131.48,265.71 132.24,236.12 133.00,259.96 133.76,279.87 134.52,288.16 135.28,273.99 136.04,284.99 136.80,299.64 137.56,280.77 138.32,270.71 139.08,260.91 139.84,275.12 140.60,287.68 141.36,262.30 142.12,286.67 142.88,275.08 143.64,260.08 144.40,295.44 145.16,254.78 145.92,251.71 146.68,288.08 147.44,279.68 148.20,270.27 148.96,264.45 149.72,271.56 150.48,280.86 151.24,287.79 152.00,281.31 152.76,274.83 153.52,268.35 154.28,261.87 155.04,268.16 155.80,274.08 156.56,280.73 157.32,287.01 158.08,288.70 158.84,278.75 159.60,274.62 160.36,270.48 161.12,278.90 161.88,288.19 162.64,265.65 163.40,272.73 164.16,279.80 164.92,288.32 165.68,276.76 166.44,263.36 167.20,298.01 167.96,257.93 168.72,287.71 169.48,260.93 170.24,274.99 171.00,292.24 171.76,261.28 172.52,287.12 173.28,281.36 174.04,258.39 174.80,253.18 175.56,257.33 176.32,279.84 177.08,294.83 177.84,275.89 178.60,281.51 179.36,295.02 180.12,301.70 180.88,271.81 181.64,245.88 182.40,296.10 183.16,246.59 183.92,272.83 184.68,298.54 185.44,284.52 186.20,283.54" stroke="#0010ff" stroke-width="0.7" stroke-opacity="0.8" fill="none" stroke-linejoin="round"/>
<polyline points="34.20,268.05 34.96,290.73 35.72,313.41 36.48,249.10 37.24,241.60 38.00,276.83 38.76,312.06 39.52,226.10 40.28,310.12 41.04,252.30 41.80,314.63 42.56,289.22 43.32,263.80 44.08,288.19 44.84,312.58 45.60,284.50 46.36,312.10 47.12,247.10 47.88,245.60 48.64,277.55 49.40,309.50 50.16,281.25 50.92,253.00 51.68,284.52 52.44,316.04 53.20,280.10 53.96,315.78 54.72,277.09 55.48,238.40 56.24,313.98 57.00,262.90 57.76,286.63 58.52,310.37 59.28,270.38 60.04,230.40 60.80,310.24 61.56,232.30 62.32,259.97 63.08,287.63 63.84,315.30 64.60,294.70 65.36,274.10 66.12,253.50 66.88,257.00 67.64,283.35 68.40,309.69 69.16,281.05 69.92,252.40 70.68,312.50 71.44,234.30 72.20,259.32 72.96,284.33 73.72,309.35 74.48,282.32 75.24,255.30 76.00,282.44 76.76,309.59 77.52,273.09 78.28,236.60 79.04,276.10 79.80,315.60 80.56,290.73 81.32,265.85 82.08,281.51 82.84,297.18 83.60,312.85 84.36,269.17 85.12,225.50 85.88,315.15 86.64,278.53 87.40,241.90 88.16,224.10 88.92,248.30 89.68,252.10 90.44,282.52 91.20,312.94 91.96,273.77 92.72,234.60 93.48,261.65 94.24,288.69 95.00,315.74 95.76,283.92 96.52,252.10 97.28,271.70 98.04,291.31 98.80,310.91 99.56,289.64 100.32,268.37 101.08,247.10 101.84,239.80 102.60,312.38 103.36,241.30 104.12,266.03 104.88,290.76 105.64,315.49 106.40,292.17 107.16,268.84 107.92,245.52 108.68,222.20 109.44,268.43 110.20,314.65 110.96,270.98 111.72,227.30 112.48,269.97 113.24,312.65 114.00,285.56 114.76,258.48 115.52,231.40 116.28,251.80 117.04,259.30 117.80,310.70 118.56,247.10 119.32,314.30 120.08,275.05 120.84,235.80 121.60,275.65 122.36,315.51 123.12,226.10 123.88,313.73 124.64,252.40 125.40,273.53 126.16,294.65 126.92,315.78 127.68,280.89 128.44,246.00 129.20,279.93 129.96,313.87 130.72,287.25 131.48,260.62 132.24,234.00 133.00,259.10 133.76,284.57 134.52,310.03 135.28,268.50 136.04,291.73 136.80,314.96 137.56,286.28 138.32,257.60 139.08,230.40 139.84,272.26 140.60,314.11 141.36,236.30 142.12,310.74 142.88,272.12 143.64,233.50 144.40,314.81 145.16,227.30 145.92,223.40 146.68,315.45 147.44,285.77 148.20,256.10 148.96,242.50 149.72,266.50 150.48,290.50 151.24,314.49 152.00,292.90 152.76,271.30 153.52,249.70 154.28,228.10 155.04,249.05 155.80,270.00 156.56,290.95 157.32,311.91 158.08,298.13 158.84,284.35 159.60,270.58 160.36,256.80 161.12,283.99 161.88,311.18 162.64,240.70 163.40,264.28 164.16,287.85 164.92,311.43 165.68,277.72 166.44,244.00 167.20,315.81 167.96,234.60 168.72,314.24 169.48,230.40 170.24,272.92 171.00,315.44 171.76,246.00 172.52,312.26 173.28,283.48 174.04,254.70 174.80,242.50 175.56,251.80 176.32,282.73 177.08,313.65 177.84,275.10 178.60,287.03 179.36,298.96 180.12,310.90 180.88,269.50 181.64,228.10 182.40,312.20 183.16,226.70 183.92,269.40 184.68,312.11 185.44,287.40 186.20,290.30" stroke="#f00010" stroke-width="0.8" stroke-opacity="0.85" fill="none" stroke-linejoin="round"/>
<g fill="#f8b8c0" fill-opacity="0.7" stroke="#e85060" stroke-width="0.45" stroke-opacity="0.75"><circle cx="34.20" cy="268.05" r="1.45"/><circle cx="34.96" cy="290.73" r="1.45"/><circle cx="35.72" cy="313.41" r="1.45"/><circle cx="36.48" cy="249.10" r="1.45"/><circle cx="37.24" cy="241.60" r="1.45"/><circle cx="38.00" cy="276.83" r="1.45"/><circle cx="38.76" cy="312.06" r="1.45"/><circle cx="39.52" cy="226.10" r="1.45"/><circle cx="40.28" cy="310.12" r="1.45"/><circle cx="41.04" cy="252.30" r="1.45"/><circle cx="41.80" cy="314.63" r="1.45"/><circle cx="42.56" cy="289.22" r="1.45"/><circle cx="43.32" cy="263.80" r="1.45"/><circle cx="44.08" cy="288.19" r="1.45"/><circle cx="44.84" cy="312.58" r="1.45"/><circle cx="45.60" cy="284.50" r="1.45"/><circle cx="46.36" cy="312.10" r="1.45"/><circle cx="47.12" cy="247.10" r="1.45"/><circle cx="47.88" cy="245.60" r="1.45"/><circle cx="48.64" cy="277.55" r="1.45"/><circle cx="49.40" cy="309.50" r="1.45"/><circle cx="50.16" cy="281.25" r="1.45"/><circle cx="50.92" cy="253.00" r="1.45"/><circle cx="51.68" cy="284.52" r="1.45"/><circle cx="52.44" cy="316.04" r="1.45"/><circle cx="53.20" cy="280.10" r="1.45"/><circle cx="53.96" cy="315.78" r="1.45"/><circle cx="54.72" cy="277.09" r="1.45"/><circle cx="55.48" cy="238.40" r="1.45"/><circle cx="56.24" cy="313.98" r="1.45"/><circle cx="57.00" cy="262.90" r="1.45"/><circle cx="57.76" cy="286.63" r="1.45"/><circle cx="58.52" cy="310.37" r="1.45"/><circle cx="59.28" cy="270.38" r="1.45"/><circle cx="60.04" cy="230.40" r="1.45"/><circle cx="60.80" cy="310.24" r="1.45"/><circle cx="61.56" cy="232.30" r="1.45"/><circle cx="62.32" cy="259.97" r="1.45"/><circle cx="63.08" cy="287.63" r="1.45"/><circle cx="63.84" cy="315.30" r="1.45"/><circle cx="64.60" cy="294.70" r="1.45"/><circle cx="65.36" cy="274.10" r="1.45"/><circle cx="66.12" cy="253.50" r="1.45"/><circle cx="66.88" cy="257.00" r="1.45"/><circle cx="67.64" cy="283.35" r="1.45"/><circle cx="68.40" cy="309.69" r="1.45"/><circle cx="69.16" cy="281.05" r="1.45"/><circle cx="69.92" cy="252.40" r="1.45"/><circle cx="70.68" cy="312.50" r="1.45"/><circle cx="71.44" cy="234.30" r="1.45"/><circle cx="72.20" cy="259.32" r="1.45"/><circle cx="72.96" cy="284.33" r="1.45"/><circle cx="73.72" cy="309.35" r="1.45"/><circle cx="74.48" cy="282.32" r="1.45"/><circle cx="75.24" cy="255.30" r="1.45"/><circle cx="76.00" cy="282.44" r="1.45"/><circle cx="76.76" cy="309.59" r="1.45"/><circle cx="77.52" cy="273.09" r="1.45"/><circle cx="78.28" cy="236.60" r="1.45"/><circle cx="79.04" cy="276.10" r="1.45"/><circle cx="79.80" cy="315.60" r="1.45"/><circle cx="80.56" cy="290.73" r="1.45"/><circle cx="81.32" cy="265.85" r="1.45"/><circle cx="82.08" cy="281.51" r="1.45"/><circle cx="82.84" cy="297.18" r="1.45"/><circle cx="83.60" cy="312.85" r="1.45"/><circle cx="84.36" cy="269.17" r="1.45"/><circle cx="85.12" cy="225.50" r="1.45"/><circle cx="85.88" cy="315.15" r="1.45"/><circle cx="86.64" cy="278.53" r="1.45"/><circle cx="87.40" cy="241.90" r="1.45"/><circle cx="88.16" cy="224.10" r="1.45"/><circle cx="88.92" cy="248.30" r="1.45"/><circle cx="89.68" cy="252.10" r="1.45"/><circle cx="90.44" cy="282.52" r="1.45"/><circle cx="91.20" cy="312.94" r="1.45"/><circle cx="91.96" cy="273.77" r="1.45"/><circle cx="92.72" cy="234.60" r="1.45"/><circle cx="93.48" cy="261.65" r="1.45"/><circle cx="94.24" cy="288.69" r="1.45"/><circle cx="95.00" cy="315.74" r="1.45"/><circle cx="95.76" cy="283.92" r="1.45"/><circle cx="96.52" cy="252.10" r="1.45"/><circle cx="97.28" cy="271.70" r="1.45"/><circle cx="98.04" cy="291.31" r="1.45"/><circle cx="98.80" cy="310.91" r="1.45"/><circle cx="99.56" cy="289.64" r="1.45"/><circle cx="100.32" cy="268.37" r="1.45"/><circle cx="101.08" cy="247.10" r="1.45"/><circle cx="101.84" cy="239.80" r="1.45"/><circle cx="102.60" cy="312.38" r="1.45"/><circle cx="103.36" cy="241.30" r="1.45"/><circle cx="104.12" cy="266.03" r="1.45"/><circle cx="104.88" cy="290.76" r="1.45"/><circle cx="105.64" cy="315.49" r="1.45"/><circle cx="106.40" cy="292.17" r="1.45"/><circle cx="107.16" cy="268.84" r="1.45"/><circle cx="107.92" cy="245.52" r="1.45"/><circle cx="108.68" cy="222.20" r="1.45"/><circle cx="109.44" cy="268.43" r="1.45"/><circle cx="110.20" cy="314.65" r="1.45"/><circle cx="110.96" cy="270.98" r="1.45"/><circle cx="111.72" cy="227.30" r="1.45"/><circle cx="112.48" cy="269.97" r="1.45"/><circle cx="113.24" cy="312.65" r="1.45"/><circle cx="114.00" cy="285.56" r="1.45"/><circle cx="114.76" cy="258.48" r="1.45"/><circle cx="115.52" cy="231.40" r="1.45"/><circle cx="116.28" cy="251.80" r="1.45"/><circle cx="117.04" cy="259.30" r="1.45"/><circle cx="117.80" cy="310.70" r="1.45"/><circle cx="118.56" cy="247.10" r="1.45"/><circle cx="119.32" cy="314.30" r="1.45"/><circle cx="120.08" cy="275.05" r="1.45"/><circle cx="120.84" cy="235.80" r="1.45"/><circle cx="121.60" cy="275.65" r="1.45"/><circle cx="122.36" cy="315.51" r="1.45"/><circle cx="123.12" cy="226.10" r="1.45"/><circle cx="123.88" cy="313.73" r="1.45"/><circle cx="124.64" cy="252.40" r="1.45"/><circle cx="125.40" cy="273.53" r="1.45"/><circle cx="126.16" cy="294.65" r="1.45"/><circle cx="126.92" cy="315.78" r="1.45"/><circle cx="127.68" cy="280.89" r="1.45"/><circle cx="128.44" cy="246.00" r="1.45"/><circle cx="129.20" cy="279.93" r="1.45"/><circle cx="129.96" cy="313.87" r="1.45"/><circle cx="130.72" cy="287.25" r="1.45"/><circle cx="131.48" cy="260.62" r="1.45"/><circle cx="132.24" cy="234.00" r="1.45"/><circle cx="133.00" cy="259.10" r="1.45"/><circle cx="133.76" cy="284.57" r="1.45"/><circle cx="134.52" cy="310.03" r="1.45"/><circle cx="135.28" cy="268.50" r="1.45"/><circle cx="136.04" cy="291.73" r="1.45"/><circle cx="136.80" cy="314.96" r="1.45"/><circle cx="137.56" cy="286.28" r="1.45"/><circle cx="138.32" cy="257.60" r="1.45"/><circle cx="139.08" cy="230.40" r="1.45"/><circle cx="139.84" cy="272.26" r="1.45"/><circle cx="140.60" cy="314.11" r="1.45"/><circle cx="141.36" cy="236.30" r="1.45"/><circle cx="142.12" cy="310.74" r="1.45"/><circle cx="142.88" cy="272.12" r="1.45"/><circle cx="143.64" cy="233.50" r="1.45"/><circle cx="144.40" cy="314.81" r="1.45"/><circle cx="145.16" cy="227.30" r="1.45"/><circle cx="145.92" cy="223.40" r="1.45"/><circle cx="146.68" cy="315.45" r="1.45"/><circle cx="147.44" cy="285.77" r="1.45"/><circle cx="148.20" cy="256.10" r="1.45"/><circle cx="148.96" cy="242.50" r="1.45"/><circle cx="149.72" cy="266.50" r="1.45"/><circle cx="150.48" cy="290.50" r="1.45"/><circle cx="151.24" cy="314.49" r="1.45"/><circle cx="152.00" cy="292.90" r="1.45"/><circle cx="152.76" cy="271.30" r="1.45"/><circle cx="153.52" cy="249.70" r="1.45"/><circle cx="154.28" cy="228.10" r="1.45"/><circle cx="155.04" cy="249.05" r="1.45"/><circle cx="155.80" cy="270.00" r="1.45"/><circle cx="156.56" cy="290.95" r="1.45"/><circle cx="157.32" cy="311.91" r="1.45"/><circle cx="158.08" cy="298.13" r="1.45"/><circle cx="158.84" cy="284.35" r="1.45"/><circle cx="159.60" cy="270.58" r="1.45"/><circle cx="160.36" cy="256.80" r="1.45"/><circle cx="161.12" cy="283.99" r="1.45"/><circle cx="161.88" cy="311.18" r="1.45"/><circle cx="162.64" cy="240.70" r="1.45"/><circle cx="163.40" cy="264.28" r="1.45"/><circle cx="164.16" cy="287.85" r="1.45"/><circle cx="164.92" cy="311.43" r="1.45"/><circle cx="165.68" cy="277.72" r="1.45"/><circle cx="166.44" cy="244.00" r="1.45"/><circle cx="167.20" cy="315.81" r="1.45"/><circle cx="167.96" cy="234.60" r="1.45"/><circle cx="168.72" cy="314.24" r="1.45"/><circle cx="169.48" cy="230.40" r="1.45"/><circle cx="170.24" cy="272.92" r="1.45"/><circle cx="171.00" cy="315.44" r="1.45"/><circle cx="171.76" cy="246.00" r="1.45"/><circle cx="172.52" cy="312.26" r="1.45"/><circle cx="173.28" cy="283.48" r="1.45"/><circle cx="174.04" cy="254.70" r="1.45"/><circle cx="174.80" cy="242.50" r="1.45"/><circle cx="175.56" cy="251.80" r="1.45"/><circle cx="176.32" cy="282.73" r="1.45"/><circle cx="177.08" cy="313.65" r="1.45"/><circle cx="177.84" cy="275.10" r="1.45"/><circle cx="178.60" cy="287.03" r="1.45"/><circle cx="179.36" cy="298.96" r="1.45"/><circle cx="180.12" cy="310.90" r="1.45"/><circle cx="180.88" cy="269.50" r="1.45"/><circle cx="181.64" cy="228.10" r="1.45"/><circle cx="182.40" cy="312.20" r="1.45"/><circle cx="183.16" cy="226.70" r="1.45"/><circle cx="183.92" cy="269.40" r="1.45"/><circle cx="184.68" cy="312.11" r="1.45"/><circle cx="185.44" cy="287.40" r="1.45"/><circle cx="186.20" cy="290.30" r="1.45"/></g>
</g>
<g>
<path d="M265.30 337.20V322.73M266.06 337.20V334.55M266.82 337.20V332.03M267.58 337.20V331.16M268.34 337.20V332.00M269.10 337.20V318.00M269.86 337.20V333.52M270.62 337.20V335.65M271.38 337.20V322.57M272.14 337.20V336.10M272.90 337.20V335.33M273.66 337.20V328.48M274.42 337.20V333.52M275.18 337.20V323.65M275.94 337.20V330.24M276.70 337.20V335.26M277.46 337.20V334.65M278.22 337.20V329.29M278.98 337.20V333.88M279.74 337.20V333.46M280.50 337.20V317.07M281.26 337.20V336.10M282.02 337.20V334.44M282.78 337.20V336.10M283.54 337.20V330.03M284.30 337.20V334.73M285.06 337.20V321.85M285.82 337.20V328.69M286.58 337.20V321.08M287.34 337.20V331.35M288.10 337.20V333.98M288.86 337.20V334.57M289.62 337.20V331.07M290.38 337.20V320.94M291.14 337.20V323.56M291.90 337.20V324.25M292.66 337.20V324.54M293.42 337.20V329.80M294.18 337.20V328.11M294.94 337.20V330.07M295.70 337.20V331.66M296.46 337.20V318.18M297.22 337.20V323.59M297.98 337.20V334.84M298.74 337.20V335.75M299.50 337.20V318.34M300.26 337.20V336.10M301.02 337.20V328.51M301.78 337.20V329.91M302.54 337.20V335.28M303.30 337.20V332.67M304.06 337.20V334.51M304.82 337.20V332.80M305.58 337.20V319.63M306.34 337.20V334.99M307.10 337.20V333.65M307.86 337.20V333.38M308.62 337.20V318.48M309.38 337.20V326.77M310.14 337.20V322.60M310.90 337.20V318.71M311.66 337.20V332.20M312.42 337.20V332.42M313.18 337.20V332.51M313.94 337.20V328.70M314.70 337.20V330.33M315.46 337.20V336.10M316.22 337.20V332.43M316.98 337.20V330.53M317.74 337.20V332.48M318.50 337.20V329.86M319.26 337.20V328.19M320.02 337.20V329.86M320.78 337.20V324.47M321.54 337.20V332.94M322.30 337.20V330.89M323.06 337.20V327.97M323.82 337.20V332.95M324.58 337.20V327.88M325.34 337.20V326.00M326.10 337.20V329.69M326.86 337.20V332.57M327.62 337.20V328.27M328.38 337.20V335.88M329.14 337.20V328.96M329.90 337.20V328.39M330.66 337.20V336.10M331.42 337.20V327.44M332.18 337.20V333.41M332.94 337.20V336.10M333.70 337.20V334.73M334.46 337.20V331.70M335.22 337.20V328.74M335.98 337.20V330.67M336.74 337.20V328.69M337.50 337.20V329.23M338.26 337.20V319.42M339.02 337.20V336.10M339.78 337.20V336.01M340.54 337.20V334.21M341.30 337.20V320.72M342.06 337.20V322.27M342.82 337.20V326.26M343.58 337.20V329.63M344.34 337.20V334.37M345.10 337.20V334.14M345.86 337.20V333.99M346.62 337.20V331.80M347.38 337.20V335.16M348.14 337.20V333.76M348.90 337.20V331.52M349.66 337.20V335.52M350.42 337.20V334.43M351.18 337.20V332.57M351.94 337.20V329.84M352.70 337.20V329.44M353.46 337.20V336.10M354.22 337.20V331.86M354.98 337.20V328.57M355.74 337.20V329.36M356.50 337.20V324.72M357.26 337.20V336.10M358.02 337.20V317.45M358.78 337.20V333.22M359.54 337.20V323.34M360.30 337.20V326.63M361.06 337.20V335.77M361.82 337.20V319.67M362.58 337.20V336.06M363.34 337.20V328.24M364.10 337.20V327.88M364.86 337.20V334.95M365.62 337.20V330.04M366.38 337.20V332.85M367.14 337.20V328.44M367.90 337.20V326.19M368.66 337.20V334.29M369.42 337.20V329.92M370.18 337.20V335.20M370.94 337.20V332.29M371.70 337.20V332.23M372.46 337.20V334.72M373.22 337.20V335.18M373.98 337.20V328.61M374.74 337.20V335.42M375.50 337.20V327.36M376.26 337.20V335.13M377.02 337.20V333.68M377.78 337.20V334.71M378.54 337.20V332.87M379.30 337.20V328.67M380.06 337.20V332.57M380.82 337.20V335.39M381.58 337.20V335.61M382.34 337.20V328.53M383.10 337.20V332.57M383.86 337.20V332.18M384.62 337.20V329.66M385.38 337.20V329.18M386.14 337.20V335.12M386.90 337.20V334.00M387.66 337.20V329.57M388.42 337.20V328.18M389.18 337.20V328.03M389.94 337.20V332.41M390.70 337.20V326.74M391.46 337.20V335.85M392.22 337.20V334.19M392.98 337.20V330.06M393.74 337.20V333.87M394.50 337.20V334.86M395.26 337.20V332.78M396.02 337.20V331.09M396.78 337.20V331.78M397.54 337.20V335.69M398.30 337.20V328.25M399.06 337.20V329.79M399.82 337.20V331.79M400.58 337.20V320.86M401.34 337.20V329.82M402.10 337.20V330.92M402.86 337.20V333.28M403.62 337.20V332.16M404.38 337.20V329.38M405.14 337.20V328.80M405.90 337.20V328.64M406.66 337.20V334.51M407.42 337.20V334.91M408.18 337.20V331.70M408.94 337.20V330.11M409.70 337.20V330.11M410.46 337.20V330.91M411.22 337.20V331.01M411.98 337.20V331.44M412.74 337.20V330.71M413.50 337.20V331.73M414.26 337.20V333.52M415.02 337.20V321.92M415.78 337.20V331.08M416.54 337.20V329.24M417.30 337.20V336.10" stroke="#ff7a00" stroke-width="0.7" stroke-opacity="1" fill="none"/>
<polyline points="265.30,284.51 266.06,305.95 266.82,223.04 267.58,249.14 268.34,269.34 269.10,291.27 269.86,314.02 270.62,291.07 271.38,269.30 272.14,246.50 272.90,265.73 273.66,283.58 274.42,301.36 275.18,271.93 275.94,247.48 276.70,268.27 277.46,278.36 278.22,291.06 278.98,277.04 279.74,261.26 280.50,243.47 281.26,255.34 282.02,286.39 282.78,264.11 283.54,241.93 284.30,301.49 285.06,249.46 285.82,272.89 286.58,285.23 287.34,260.92 288.10,276.40 288.86,295.96 289.62,273.92 290.38,252.86 291.14,289.86 291.90,282.16 292.66,266.49 293.42,282.31 294.18,302.42 294.94,288.08 295.70,276.71 296.46,284.18 297.22,285.41 297.98,278.31 298.74,281.91 299.50,285.50 300.26,270.17 301.02,250.99 301.78,272.81 302.54,286.58 303.30,275.58 304.06,259.24 304.82,268.65 305.58,281.55 306.34,300.00 307.10,284.66 307.86,274.80 308.62,272.55 309.38,278.70 310.14,290.99 310.90,289.30 311.66,280.78 312.42,270.86 313.18,281.54 313.94,285.01 314.70,273.49 315.46,257.00 316.22,273.49 316.98,299.40 317.74,283.06 318.50,264.96 319.26,243.14 320.02,307.44 320.78,259.63 321.54,275.35 322.30,291.09 323.06,306.82 323.82,266.31 324.58,236.97 325.34,308.62 326.10,275.98 326.86,264.07 327.62,299.23 328.38,225.80 329.14,295.81 329.90,254.50 330.66,264.41 331.42,283.32 332.18,305.84 332.94,283.24 333.70,258.96 334.46,231.12 335.22,304.45 335.98,294.05 336.74,282.32 337.50,297.16 338.26,311.93 339.02,277.23 339.78,262.03 340.54,261.27 341.30,265.31 342.06,243.89 342.82,261.12 343.58,286.25 344.34,305.25 345.10,269.54 345.86,224.09 346.62,266.76 347.38,309.16 348.14,282.10 348.90,255.04 349.66,231.54 350.42,254.27 351.18,280.55 351.94,306.84 352.70,280.62 353.46,254.39 354.22,300.93 354.98,227.92 355.74,252.87 356.50,283.08 357.26,313.29 358.02,304.14 358.78,293.82 359.54,283.85 360.30,295.30 361.06,311.25 361.82,239.67 362.58,313.10 363.34,269.16 364.10,225.23 364.86,267.96 365.62,308.45 366.38,236.63 367.14,262.80 367.90,280.54 368.66,294.30 369.42,278.27 370.18,268.46 370.94,251.32 371.70,264.78 372.46,278.21 373.22,289.57 373.98,275.28 374.74,244.95 375.50,309.53 376.26,239.33 377.02,271.96 377.78,297.54 378.54,280.24 379.30,265.32 380.06,295.28 380.82,255.03 381.58,274.96 382.34,292.39 383.10,278.22 383.86,262.55 384.62,280.67 385.38,296.25 386.14,269.16 386.90,224.09 387.66,309.55 388.42,273.30 389.18,293.09 389.94,275.89 390.70,290.70 391.46,306.48 392.22,278.42 392.98,258.03 393.74,254.76 394.50,260.91 395.26,287.36 396.02,262.97 396.78,274.56 397.54,286.60 398.30,255.73 399.06,293.80 399.82,270.30 400.58,246.07 401.34,271.31 402.10,291.42 402.86,273.93 403.62,255.93 404.38,286.10 405.14,269.79 405.90,279.81 406.66,300.44 407.42,283.16 408.18,261.08 408.94,237.48 409.70,272.79 410.46,297.74 411.22,280.97 411.98,271.26 412.74,276.92 413.50,281.85 414.26,286.81 415.02,279.14 415.78,270.73 416.54,261.93 417.30,270.66" stroke="#0010ff" stroke-width="0.7" stroke-opacity="0.8" fill="none" stroke-linejoin="round"/>
<polyline points="265.30,285.01 266.06,307.57 266.82,220.30 267.58,244.24 268.34,268.18 269.10,292.12 269.86,316.06 270.62,291.91 271.38,267.75 272.14,243.60 272.90,265.23 273.66,286.86 274.42,308.48 275.18,271.09 275.94,233.70 276.70,259.03 277.46,284.37 278.22,309.70 278.98,279.90 279.74,250.10 280.50,220.30 281.26,241.30 282.02,310.02 282.78,259.30 283.54,224.40 284.30,316.17 285.06,227.30 285.82,267.98 286.58,308.65 287.34,241.30 288.10,277.05 288.86,312.79 289.62,272.10 290.38,231.40 291.14,308.85 291.90,284.68 292.66,260.50 293.42,285.92 294.18,311.34 294.94,294.67 295.70,278.00 296.46,293.64 297.22,309.27 297.98,285.60 298.74,297.59 299.50,309.57 300.26,265.94 301.02,222.30 301.78,267.73 302.54,313.15 303.30,276.48 304.06,239.80 304.82,263.24 305.58,286.67 306.34,310.11 307.10,292.06 307.86,274.00 308.62,266.40 309.38,286.88 310.14,307.36 310.90,294.22 311.66,281.07 312.42,267.93 313.18,287.93 313.94,307.93 314.70,269.51 315.46,231.10 316.22,273.22 316.98,315.34 317.74,285.59 318.50,255.85 319.26,226.10 320.02,310.38 320.78,258.80 321.54,275.36 322.30,291.93 323.06,308.49 323.82,264.79 324.58,221.10 325.34,313.46 326.10,276.30 326.86,262.30 327.62,315.86 328.38,223.20 329.14,309.39 329.90,234.60 330.66,260.10 331.42,285.59 332.18,311.09 332.94,283.66 333.70,256.23 334.46,228.80 335.22,307.39 335.98,295.05 336.74,282.70 337.50,298.32 338.26,313.94 339.02,278.47 339.78,243.00 340.54,231.10 341.30,252.30 342.06,229.60 342.82,258.22 343.58,286.83 344.34,315.45 345.10,268.43 345.86,221.40 346.62,266.18 347.38,310.95 348.14,282.47 348.90,253.98 349.66,225.50 350.42,253.17 351.18,280.83 351.94,308.50 352.70,280.90 353.46,253.30 354.22,310.31 354.98,219.90 355.74,251.70 356.50,283.50 357.26,315.30 358.02,305.66 358.78,296.03 359.54,286.40 360.30,299.78 361.06,313.15 361.82,237.80 362.58,315.09 363.34,268.85 364.10,222.60 364.86,267.57 365.62,312.55 366.38,234.60 367.14,259.44 367.90,284.28 368.66,309.11 369.42,280.94 370.18,252.77 370.94,224.60 371.70,252.30 372.46,282.20 373.22,312.11 373.98,275.35 374.74,238.60 375.50,311.34 376.26,229.40 377.02,271.79 377.78,314.19 378.54,286.64 379.30,259.10 380.06,311.51 380.82,242.50 381.58,274.83 382.34,307.17 383.10,279.88 383.86,252.60 384.62,282.60 385.38,312.60 386.14,267.00 386.90,221.40 387.66,313.45 388.42,271.00 389.18,309.92 389.94,276.60 390.70,292.37 391.46,308.13 392.22,279.62 392.98,251.11 393.74,222.60 394.50,227.60 395.26,315.75 396.02,235.80 396.78,273.10 397.54,310.40 398.30,223.20 399.06,310.74 399.82,265.92 400.58,221.10 401.34,265.90 402.10,310.71 402.86,273.10 403.62,235.50 404.38,311.55 405.14,257.20 405.90,283.61 406.66,310.01 407.42,285.18 408.18,260.34 408.94,235.50 409.70,271.98 410.46,308.46 411.22,285.53 411.98,262.60 412.74,279.71 413.50,296.82 414.26,313.93 415.02,287.12 415.78,260.31 416.54,233.50 417.30,266.91" stroke="#f00010" stroke-width="0.8" stroke-opacity="0.85" fill="none" stroke-linejoin="round"/>
<g fill="#f8b8c0" fill-opacity="0.7" stroke="#e85060" stroke-width="0.45" stroke-opacity="0.75"><circle cx="265.30" cy="285.01" r="1.45"/><circle cx="266.06" cy="307.57" r="1.45"/><circle cx="266.82" cy="220.30" r="1.45"/><circle cx="267.58" cy="244.24" r="1.45"/><circle cx="268.34" cy="268.18" r="1.45"/><circle cx="269.10" cy="292.12" r="1.45"/><circle cx="269.86" cy="316.06" r="1.45"/><circle cx="270.62" cy="291.91" r="1.45"/><circle cx="271.38" cy="267.75" r="1.45"/><circle cx="272.14" cy="243.60" r="1.45"/><circle cx="272.90" cy="265.23" r="1.45"/><circle cx="273.66" cy="286.86" r="1.45"/><circle cx="274.42" cy="308.48" r="1.45"/><circle cx="275.18" cy="271.09" r="1.45"/><circle cx="275.94" cy="233.70" r="1.45"/><circle cx="276.70" cy="259.03" r="1.45"/><circle cx="277.46" cy="284.37" r="1.45"/><circle cx="278.22" cy="309.70" r="1.45"/><circle cx="278.98" cy="279.90" r="1.45"/><circle cx="279.74" cy="250.10" r="1.45"/><circle cx="280.50" cy="220.30" r="1.45"/><circle cx="281.26" cy="241.30" r="1.45"/><circle cx="282.02" cy="310.02" r="1.45"/><circle cx="282.78" cy="259.30" r="1.45"/><circle cx="283.54" cy="224.40" r="1.45"/><circle cx="284.30" cy="316.17" r="1.45"/><circle cx="285.06" cy="227.30" r="1.45"/><circle cx="285.82" cy="267.98" r="1.45"/><circle cx="286.58" cy="308.65" r="1.45"/><circle cx="287.34" cy="241.30" r="1.45"/><circle cx="288.10" cy="277.05" r="1.45"/><circle cx="288.86" cy="312.79" r="1.45"/><circle cx="289.62" cy="272.10" r="1.45"/><circle cx="290.38" cy="231.40" r="1.45"/><circle cx="291.14" cy="308.85" r="1.45"/><circle cx="291.90" cy="284.68" r="1.45"/><circle cx="292.66" cy="260.50" r="1.45"/><circle cx="293.42" cy="285.92" r="1.45"/><circle cx="294.18" cy="311.34" r="1.45"/><circle cx="294.94" cy="294.67" r="1.45"/><circle cx="295.70" cy="278.00" r="1.45"/><circle cx="296.46" cy="293.64" r="1.45"/><circle cx="297.22" cy="309.27" r="1.45"/><circle cx="297.98" cy="285.60" r="1.45"/><circle cx="298.74" cy="297.59" r="1.45"/><circle cx="299.50" cy="309.57" r="1.45"/><circle cx="300.26" cy="265.94" r="1.45"/><circle cx="301.02" cy="222.30" r="1.45"/><circle cx="301.78" cy="267.73" r="1.45"/><circle cx="302.54" cy="313.15" r="1.45"/><circle cx="303.30" cy="276.48" r="1.45"/><circle cx="304.06" cy="239.80" r="1.45"/><circle cx="304.82" cy="263.24" r="1.45"/><circle cx="305.58" cy="286.67" r="1.45"/><circle cx="306.34" cy="310.11" r="1.45"/><circle cx="307.10" cy="292.06" r="1.45"/><circle cx="307.86" cy="274.00" r="1.45"/><circle cx="308.62" cy="266.40" r="1.45"/><circle cx="309.38" cy="286.88" r="1.45"/><circle cx="310.14" cy="307.36" r="1.45"/><circle cx="310.90" cy="294.22" r="1.45"/><circle cx="311.66" cy="281.07" r="1.45"/><circle cx="312.42" cy="267.93" r="1.45"/><circle cx="313.18" cy="287.93" r="1.45"/><circle cx="313.94" cy="307.93" r="1.45"/><circle cx="314.70" cy="269.51" r="1.45"/><circle cx="315.46" cy="231.10" r="1.45"/><circle cx="316.22" cy="273.22" r="1.45"/><circle cx="316.98" cy="315.34" r="1.45"/><circle cx="317.74" cy="285.59" r="1.45"/><circle cx="318.50" cy="255.85" r="1.45"/><circle cx="319.26" cy="226.10" r="1.45"/><circle cx="320.02" cy="310.38" r="1.45"/><circle cx="320.78" cy="258.80" r="1.45"/><circle cx="321.54" cy="275.36" r="1.45"/><circle cx="322.30" cy="291.93" r="1.45"/><circle cx="323.06" cy="308.49" r="1.45"/><circle cx="323.82" cy="264.79" r="1.45"/><circle cx="324.58" cy="221.10" r="1.45"/><circle cx="325.34" cy="313.46" r="1.45"/><circle cx="326.10" cy="276.30" r="1.45"/><circle cx="326.86" cy="262.30" r="1.45"/><circle cx="327.62" cy="315.86" r="1.45"/><circle cx="328.38" cy="223.20" r="1.45"/><circle cx="329.14" cy="309.39" r="1.45"/><circle cx="329.90" cy="234.60" r="1.45"/><circle cx="330.66" cy="260.10" r="1.45"/><circle cx="331.42" cy="285.59" r="1.45"/><circle cx="332.18" cy="311.09" r="1.45"/><circle cx="332.94" cy="283.66" r="1.45"/><circle cx="333.70" cy="256.23" r="1.45"/><circle cx="334.46" cy="228.80" r="1.45"/><circle cx="335.22" cy="307.39" r="1.45"/><circle cx="335.98" cy="295.05" r="1.45"/><circle cx="336.74" cy="282.70" r="1.45"/><circle cx="337.50" cy="298.32" r="1.45"/><circle cx="338.26" cy="313.94" r="1.45"/><circle cx="339.02" cy="278.47" r="1.45"/><circle cx="339.78" cy="243.00" r="1.45"/><circle cx="340.54" cy="231.10" r="1.45"/><circle cx="341.30" cy="252.30" r="1.45"/><circle cx="342.06" cy="229.60" r="1.45"/><circle cx="342.82" cy="258.22" r="1.45"/><circle cx="343.58" cy="286.83" r="1.45"/><circle cx="344.34" cy="315.45" r="1.45"/><circle cx="345.10" cy="268.43" r="1.45"/><circle cx="345.86" cy="221.40" r="1.45"/><circle cx="346.62" cy="266.18" r="1.45"/><circle cx="347.38" cy="310.95" r="1.45"/><circle cx="348.14" cy="282.47" r="1.45"/><circle cx="348.90" cy="253.98" r="1.45"/><circle cx="349.66" cy="225.50" r="1.45"/><circle cx="350.42" cy="253.17" r="1.45"/><circle cx="351.18" cy="280.83" r="1.45"/><circle cx="351.94" cy="308.50" r="1.45"/><circle cx="352.70" cy="280.90" r="1.45"/><circle cx="353.46" cy="253.30" r="1.45"/><circle cx="354.22" cy="310.31" r="1.45"/><circle cx="354.98" cy="219.90" r="1.45"/><circle cx="355.74" cy="251.70" r="1.45"/><circle cx="356.50" cy="283.50" r="1.45"/><circle cx="357.26" cy="315.30" r="1.45"/><circle cx="358.02" cy="305.66" r="1.45"/><circle cx="358.78" cy="296.03" r="1.45"/><circle cx="359.54" cy="286.40" r="1.45"/><circle cx="360.30" cy="299.78" r="1.45"/><circle cx="361.06" cy="313.15" r="1.45"/><circle cx="361.82" cy="237.80" r="1.45"/><circle cx="362.58" cy="315.09" r="1.45"/><circle cx="363.34" cy="268.85" r="1.45"/><circle cx="364.10" cy="222.60" r="1.45"/><circle cx="364.86" cy="267.57" r="1.45"/><circle cx="365.62" cy="312.55" r="1.45"/><circle cx="366.38" cy="234.60" r="1.45"/><circle cx="367.14" cy="259.44" r="1.45"/><circle cx="367.90" cy="284.28" r="1.45"/><circle cx="368.66" cy="309.11" r="1.45"/><circle cx="369.42" cy="280.94" r="1.45"/><circle cx="370.18" cy="252.77" r="1.45"/><circle cx="370.94" cy="224.60" r="1.45"/><circle cx="371.70" cy="252.30" r="1.45"/><circle cx="372.46" cy="282.20" r="1.45"/><circle cx="373.22" cy="312.11" r="1.45"/><circle cx="373.98" cy="275.35" r="1.45"/><circle cx="374.74" cy="238.60" r="1.45"/><circle cx="375.50" cy="311.34" r="1.45"/><circle cx="376.26" cy="229.40" r="1.45"/><circle cx="377.02" cy="271.79" r="1.45"/><circle cx="377.78" cy="314.19" r="1.45"/><circle cx="378.54" cy="286.64" r="1.45"/><circle cx="379.30" cy="259.10" r="1.45"/><circle cx="380.06" cy="311.51" r="1.45"/><circle cx="380.82" cy="242.50" r="1.45"/><circle cx="381.58" cy="274.83" r="1.45"/><circle cx="382.34" cy="307.17" r="1.45"/><circle cx="383.10" cy="279.88" r="1.45"/><circle cx="383.86" cy="252.60" r="1.45"/><circle cx="384.62" cy="282.60" r="1.45"/><circle cx="385.38" cy="312.60" r="1.45"/><circle cx="386.14" cy="267.00" r="1.45"/><circle cx="386.90" cy="221.40" r="1.45"/><circle cx="387.66" cy="313.45" r="1.45"/><circle cx="388.42" cy="271.00" r="1.45"/><circle cx="389.18" cy="309.92" r="1.45"/><circle cx="389.94" cy="276.60" r="1.45"/><circle cx="390.70" cy="292.37" r="1.45"/><circle cx="391.46" cy="308.13" r="1.45"/><circle cx="392.22" cy="279.62" r="1.45"/><circle cx="392.98" cy="251.11" r="1.45"/><circle cx="393.74" cy="222.60" r="1.45"/><circle cx="394.50" cy="227.60" r="1.45"/><circle cx="395.26" cy="315.75" r="1.45"/><circle cx="396.02" cy="235.80" r="1.45"/><circle cx="396.78" cy="273.10" r="1.45"/><circle cx="397.54" cy="310.40" r="1.45"/><circle cx="398.30" cy="223.20" r="1.45"/><circle cx="399.06" cy="310.74" r="1.45"/><circle cx="399.82" cy="265.92" r="1.45"/><circle cx="400.58" cy="221.10" r="1.45"/><circle cx="401.34" cy="265.90" r="1.45"/><circle cx="402.10" cy="310.71" r="1.45"/><circle cx="402.86" cy="273.10" r="1.45"/><circle cx="403.62" cy="235.50" r="1.45"/><circle cx="404.38" cy="311.55" r="1.45"/><circle cx="405.14" cy="257.20" r="1.45"/><circle cx="405.90" cy="283.61" r="1.45"/><circle cx="406.66" cy="310.01" r="1.45"/><circle cx="407.42" cy="285.18" r="1.45"/><circle cx="408.18" cy="260.34" r="1.45"/><circle cx="408.94" cy="235.50" r="1.45"/><circle cx="409.70" cy="271.98" r="1.45"/><circle cx="410.46" cy="308.46" r="1.45"/><circle cx="411.22" cy="285.53" r="1.45"/><circle cx="411.98" cy="262.60" r="1.45"/><circle cx="412.74" cy="279.71" r="1.45"/><circle cx="413.50" cy="296.82" r="1.45"/><circle cx="414.26" cy="313.93" r="1.45"/><circle cx="415.02" cy="287.12" r="1.45"/><circle cx="415.78" cy="260.31" r="1.45"/><circle cx="416.54" cy="233.50" r="1.45"/><circle cx="417.30" cy="266.91" r="1.45"/></g>
</g>
<g>
<path d="M496.80 337.20V336.00M497.56 337.20V326.02M498.32 337.20V333.96M499.08 337.20V319.12M499.84 337.20V334.34M500.60 337.20V316.97M501.36 337.20V336.10M502.12 337.20V334.90M502.88 337.20V333.89M503.64 337.20V330.70M504.40 337.20V335.62M505.16 337.20V334.59M505.92 337.20V329.53M506.68 337.20V332.00M507.44 337.20V335.34M508.20 337.20V331.43M508.96 337.20V328.15M509.72 337.20V334.04M510.48 337.20V335.17M511.24 337.20V329.11M512.00 337.20V335.22M512.76 337.20V333.08M513.52 337.20V329.34M514.28 337.20V322.56M515.04 337.20V320.17M515.80 337.20V331.26M516.56 337.20V336.10M517.32 337.20V328.64M518.08 337.20V321.93M518.84 337.20V330.38M519.60 337.20V333.88M520.36 337.20V336.10M521.12 337.20V328.54M521.88 337.20V334.24M522.64 337.20V319.73M523.40 337.20V321.77M524.16 337.20V335.39M524.92 337.20V330.70M525.68 337.20V331.85M526.44 337.20V329.15M527.20 337.20V335.44M527.96 337.20V327.90M528.72 337.20V319.11M529.48 337.20V331.94M530.24 337.20V331.52M531.00 337.20V330.83M531.76 337.20V334.11M532.52 337.20V335.59M533.28 337.20V326.39M534.04 337.20V321.74M534.80 337.20V328.28M535.56 337.20V331.81M536.32 337.20V332.38M537.08 337.20V330.50M537.84 337.20V330.08M538.60 337.20V324.91M539.36 337.20V333.92M540.12 337.20V332.53M540.88 337.20V330.37M541.64 337.20V331.96M542.40 337.20V328.02M543.16 337.20V330.06M543.92 337.20V333.16M544.68 337.20V328.59M545.44 337.20V328.17M546.20 337.20V330.12M546.96 337.20V332.17M547.72 337.20V333.30M548.48 337.20V317.63M549.24 337.20V331.96M550.00 337.20V330.49M550.76 337.20V335.80M551.52 337.20V323.40M552.28 337.20V333.26M553.04 337.20V332.35M553.80 337.20V329.81M554.56 337.20V318.55M555.32 337.20V335.37M556.08 337.20V328.10M556.84 337.20V329.01M557.60 337.20V332.37M558.36 337.20V330.42M559.12 337.20V332.44M559.88 337.20V321.50M560.64 337.20V316.83M561.40 337.20V328.89M562.16 337.20V331.57M562.92 337.20V334.56M563.68 337.20V323.89M564.44 337.20V334.25M565.20 337.20V328.36M565.96 337.20V334.79M566.72 337.20V333.13M567.48 337.20V328.81M568.24 337.20V335.28M569.00 337.20V318.39M569.76 337.20V328.69M570.52 337.20V331.60M571.28 337.20V326.07M572.04 337.20V327.11M572.80 337.20V332.20M573.56 337.20V322.99M574.32 337.20V331.38M575.08 337.20V332.29M575.84 337.20V318.71M576.60 337.20V329.58M577.36 337.20V331.07M578.12 337.20V329.79M578.88 337.20V335.94M579.64 337.20V335.35M580.40 337.20V334.79M581.16 337.20V330.36M581.92 337.20V334.25M582.68 337.20V333.70M583.44 337.20V335.40M584.20 337.20V336.10M584.96 337.20V333.28M585.72 337.20V329.58M586.48 337.20V328.78M587.24 337.20V335.80M588.00 337.20V332.99M588.76 337.20V334.33M589.52 337.20V327.85M590.28 337.20V328.72M591.04 337.20V320.17M591.80 337.20V322.36M592.56 337.20V317.22M593.32 337.20V317.04M594.08 337.20V335.41M594.84 337.20V335.24M595.60 337.20V328.28M596.36 337.20V336.10M597.12 337.20V330.99M597.88 337.20V336.10M598.64 337.20V336.10M599.40 337.20V334.50M600.16 337.20V333.30M600.92 337.20V328.08M601.68 337.20V335.35M602.44 337.20V329.09M603.20 337.20V328.10M603.96 337.20V332.47M604.72 337.20V333.30M605.48 337.20V335.37M606.24 337.20V336.10M607.00 337.20V332.05M607.76 337.20V334.28M608.52 337.20V323.45M609.28 337.20V330.08M610.04 337.20V332.91M610.80 337.20V335.18M611.56 337.20V332.10M612.32 337.20V333.14M613.08 337.20V328.87M613.84 337.20V330.21M614.60 337.20V335.54M615.36 337.20V317.36M616.12 337.20V330.91M616.88 337.20V335.96M617.64 337.20V333.72M618.40 337.20V331.30M619.16 337.20V322.09M619.92 337.20V335.55M620.68 337.20V319.47M621.44 337.20V336.10M622.20 337.20V335.16M622.96 337.20V331.94M623.72 337.20V331.36M624.48 337.20V317.70M625.24 337.20V331.19M626.00 337.20V334.63M626.76 337.20V319.80M627.52 337.20V333.34M628.28 337.20V329.51M629.04 337.20V336.10M629.80 337.20V325.50M630.56 337.20V329.36M631.32 337.20V329.14M632.08 337.20V331.13M632.84 337.20V317.80M633.60 337.20V330.20M634.36 337.20V330.23M635.12 337.20V334.91M635.88 337.20V330.99M636.64 337.20V317.99M637.40 337.20V330.45M638.16 337.20V331.91M638.92 337.20V328.50M639.68 337.20V332.93M640.44 337.20V324.09M641.20 337.20V328.09M641.96 337.20V326.40M642.72 337.20V333.38M643.48 337.20V328.90M644.24 337.20V334.60M645.00 337.20V328.66M645.76 337.20V330.01M646.52 337.20V330.09M647.28 337.20V330.06M648.04 337.20V319.25M648.80 337.20V332.83" stroke="#ff7a00" stroke-width="0.7" stroke-opacity="1" fill="none"/>
<polyline points="496.80,288.20 497.56,284.75 498.32,276.49 499.08,292.41 499.84,310.82 500.60,233.69 501.36,307.75 502.12,292.50 502.88,278.43 503.64,283.05 504.40,290.39 505.16,270.94 505.92,289.90 506.68,276.98 507.44,249.95 508.20,274.43 508.96,298.63 509.72,296.81 510.48,283.44 511.24,271.95 512.00,288.90 512.76,308.90 513.52,283.81 514.28,258.72 515.04,306.14 515.80,284.80 516.56,259.48 517.32,284.35 518.08,310.78 518.84,282.30 519.60,262.26 520.36,280.73 521.12,292.83 521.88,272.35 522.64,239.19 523.40,272.56 524.16,302.62 524.92,297.02 525.68,288.42 526.44,278.42 527.20,291.09 527.96,306.74 528.72,283.14 529.48,254.83 530.24,275.19 531.00,293.26 531.76,305.98 532.52,294.91 533.28,290.10 534.04,285.73 534.80,291.86 535.56,297.45 536.32,282.34 537.08,266.37 537.84,298.18 538.60,276.30 539.36,263.07 540.12,269.39 540.88,280.53 541.64,290.69 542.40,286.05 543.16,279.18 543.92,272.15 544.68,282.52 545.44,300.05 546.20,257.89 546.96,283.30 547.72,311.96 548.48,286.72 549.24,262.37 550.00,287.03 550.76,292.63 551.52,291.36 552.28,294.61 553.04,303.53 553.80,280.15 554.56,256.48 555.32,232.42 556.08,250.98 556.84,274.74 557.60,299.66 558.36,283.69 559.12,258.80 559.88,256.29 560.64,298.23 561.40,278.40 562.16,282.66 562.92,291.96 563.68,303.09 564.44,292.98 565.20,278.94 565.96,284.92 566.72,290.21 567.48,262.82 568.24,303.72 569.00,271.77 569.76,233.31 570.52,269.84 571.28,312.74 572.04,288.37 572.80,273.30 573.56,307.59 574.32,239.20 575.08,272.63 575.84,308.56 576.60,229.49 577.36,231.17 578.12,268.27 578.88,310.50 579.64,242.24 580.40,270.45 581.16,284.10 581.92,301.29 582.68,281.22 583.44,271.55 584.20,262.14 584.96,275.08 585.72,290.02 586.48,275.20 587.24,256.92 588.00,295.78 588.76,260.89 589.52,289.38 590.28,280.95 591.04,272.97 591.80,281.53 592.56,306.44 593.32,270.41 594.08,229.61 594.84,270.11 595.60,309.74 596.36,277.73 597.12,249.19 597.88,246.61 598.64,290.86 599.40,276.50 600.16,262.14 600.92,267.39 601.68,278.14 602.44,299.38 603.20,290.98 603.96,281.46 604.72,308.49 605.48,269.85 606.24,222.43 607.00,270.39 607.76,306.69 608.52,289.13 609.28,278.82 610.04,284.51 610.80,290.21 611.56,286.64 612.32,281.04 613.08,288.91 613.84,296.39 614.60,301.53 615.36,281.77 616.12,257.55 616.88,305.98 617.64,277.95 618.40,241.34 619.16,278.21 619.92,311.42 620.68,267.98 621.44,221.01 622.20,263.57 622.96,280.94 623.72,301.14 624.48,293.83 625.24,291.91 626.00,286.53 626.76,308.43 627.52,276.14 628.28,287.23 629.04,297.60 629.80,277.01 630.56,294.95 631.32,276.03 632.08,275.19 632.84,282.70 633.60,293.20 634.36,280.07 635.12,257.33 635.88,229.18 636.64,269.51 637.40,290.33 638.16,273.00 638.92,234.83 639.68,302.66 640.44,282.69 641.20,269.19 641.96,270.99 642.72,271.92 643.48,280.74 644.24,294.73 645.00,284.50 645.76,295.83 646.52,263.38 647.28,308.05 648.04,272.40 648.80,235.71" stroke="#0010ff" stroke-width="0.7" stroke-opacity="0.8" fill="none" stroke-linejoin="round"/>
<polyline points="496.80,288.86 497.56,285.00 498.32,276.30 499.08,294.37 499.84,312.43 500.60,229.30 501.36,309.20 502.12,293.15 502.88,277.10 503.64,287.10 504.40,314.48 505.16,251.80 505.92,312.85 506.68,272.67 507.44,232.50 508.20,273.37 508.96,314.23 509.72,299.45 510.48,284.68 511.24,269.90 512.00,290.57 512.76,311.25 513.52,284.42 514.28,257.60 515.04,311.69 515.80,285.04 516.56,258.40 517.32,285.40 518.08,312.40 518.84,283.25 519.60,254.10 520.36,281.71 521.12,309.31 521.88,267.31 522.64,225.30 523.40,268.42 524.16,311.55 524.92,300.36 525.68,289.18 526.44,278.00 527.20,296.24 527.96,314.49 528.72,283.99 529.48,253.50 530.24,273.73 531.00,293.96 531.76,314.19 532.52,305.32 533.28,296.46 534.04,287.60 534.80,299.86 535.56,312.11 536.32,283.86 537.08,255.60 537.84,311.64 538.60,267.52 539.36,223.40 540.12,247.70 540.88,281.59 541.64,315.48 542.40,296.29 543.16,277.10 543.92,263.80 544.68,287.24 545.44,310.68 546.20,253.30 546.96,283.47 547.72,313.64 548.48,287.07 549.24,260.50 550.00,287.40 550.76,293.29 551.52,299.19 552.28,305.08 553.04,310.98 553.80,280.15 554.56,249.33 555.32,218.50 556.08,228.10 556.84,272.32 557.60,316.55 558.36,285.32 559.12,254.10 559.88,247.70 560.64,314.70 561.40,274.50 562.16,288.72 562.92,302.93 563.68,317.15 564.44,297.87 565.20,278.60 565.96,296.24 566.72,313.88 567.48,255.60 568.24,315.21 569.00,269.21 569.76,223.20 570.52,268.83 571.28,314.46 572.04,291.28 572.80,268.10 573.56,315.49 574.32,229.30 575.08,269.82 575.84,310.33 576.60,226.50 577.36,223.20 578.12,267.65 578.88,312.10 579.64,233.10 580.40,260.21 581.16,287.32 581.92,314.43 582.68,283.05 583.44,251.68 584.20,220.30 584.96,266.76 585.72,313.23 586.48,265.96 587.24,218.70 588.00,315.78 588.76,218.50 589.52,309.59 590.28,283.00 591.04,256.40 591.80,283.15 592.56,309.89 593.32,268.20 594.08,226.50 594.84,269.56 595.60,312.62 596.36,276.06 597.12,239.50 597.88,224.60 598.64,316.04 599.40,268.17 600.16,220.30 600.92,237.80 601.68,273.65 602.44,309.50 603.20,295.80 603.96,282.10 604.72,315.52 605.48,267.46 606.24,219.40 607.00,268.12 607.76,316.84 608.52,296.37 609.28,275.90 610.04,294.89 610.80,313.87 611.56,297.48 612.32,281.09 613.08,290.84 613.84,300.59 614.60,310.34 615.36,282.82 616.12,255.30 616.88,316.09 617.64,277.70 618.40,239.30 619.16,278.05 619.92,316.79 620.68,267.35 621.44,217.90 622.20,249.83 622.96,281.76 623.72,313.68 624.48,306.09 625.24,298.49 626.00,290.90 626.76,316.95 627.52,275.10 628.28,293.49 629.04,311.87 629.80,274.50 630.56,313.30 631.32,266.60 632.08,263.80 632.84,286.97 633.60,310.15 634.36,280.06 635.12,249.98 635.88,219.90 636.64,264.77 637.40,309.65 638.16,267.87 638.92,226.10 639.68,315.38 640.44,285.49 641.20,255.60 641.96,249.80 642.72,252.90 643.48,281.88 644.24,310.86 645.00,290.90 645.76,313.21 646.52,261.40 647.28,309.52 648.04,268.41 648.80,227.30" stroke="#f00010" stroke-width="0.8" stroke-opacity="0.85" fill="none" stroke-linejoin="round"/>
<g fill="#f8b8c0" fill-opacity="0.7" stroke="#e85060" stroke-width="0.45" stroke-opacity="0.75"><circle cx="496.80" cy="288.86" r="1.45"/><circle cx="497.56" cy="285.00" r="1.45"/><circle cx="498.32" cy="276.30" r="1.45"/><circle cx="499.08" cy="294.37" r="1.45"/><circle cx="499.84" cy="312.43" r="1.45"/><circle cx="500.60" cy="229.30" r="1.45"/><circle cx="501.36" cy="309.20" r="1.45"/><circle cx="502.12" cy="293.15" r="1.45"/><circle cx="502.88" cy="277.10" r="1.45"/><circle cx="503.64" cy="287.10" r="1.45"/><circle cx="504.40" cy="314.48" r="1.45"/><circle cx="505.16" cy="251.80" r="1.45"/><circle cx="505.92" cy="312.85" r="1.45"/><circle cx="506.68" cy="272.67" r="1.45"/><circle cx="507.44" cy="232.50" r="1.45"/><circle cx="508.20" cy="273.37" r="1.45"/><circle cx="508.96" cy="314.23" r="1.45"/><circle cx="509.72" cy="299.45" r="1.45"/><circle cx="510.48" cy="284.68" r="1.45"/><circle cx="511.24" cy="269.90" r="1.45"/><circle cx="512.00" cy="290.57" r="1.45"/><circle cx="512.76" cy="311.25" r="1.45"/><circle cx="513.52" cy="284.42" r="1.45"/><circle cx="514.28" cy="257.60" r="1.45"/><circle cx="515.04" cy="311.69" r="1.45"/><circle cx="515.80" cy="285.04" r="1.45"/><circle cx="516.56" cy="258.40" r="1.45"/><circle cx="517.32" cy="285.40" r="1.45"/><circle cx="518.08" cy="312.40" r="1.45"/><circle cx="518.84" cy="283.25" r="1.45"/><circle cx="519.60" cy="254.10" r="1.45"/><circle cx="520.36" cy="281.71" r="1.45"/><circle cx="521.12" cy="309.31" r="1.45"/><circle cx="521.88" cy="267.31" r="1.45"/><circle cx="522.64" cy="225.30" r="1.45"/><circle cx="523.40" cy="268.42" r="1.45"/><circle cx="524.16" cy="311.55" r="1.45"/><circle cx="524.92" cy="300.36" r="1.45"/><circle cx="525.68" cy="289.18" r="1.45"/><circle cx="526.44" cy="278.00" r="1.45"/><circle cx="527.20" cy="296.24" r="1.45"/><circle cx="527.96" cy="314.49" r="1.45"/><circle cx="528.72" cy="283.99" r="1.45"/><circle cx="529.48" cy="253.50" r="1.45"/><circle cx="530.24" cy="273.73" r="1.45"/><circle cx="531.00" cy="293.96" r="1.45"/><circle cx="531.76" cy="314.19" r="1.45"/><circle cx="532.52" cy="305.32" r="1.45"/><circle cx="533.28" cy="296.46" r="1.45"/><circle cx="534.04" cy="287.60" r="1.45"/><circle cx="534.80" cy="299.86" r="1.45"/><circle cx="535.56" cy="312.11" r="1.45"/><circle cx="536.32" cy="283.86" r="1.45"/><circle cx="537.08" cy="255.60" r="1.45"/><circle cx="537.84" cy="311.64" r="1.45"/><circle cx="538.60" cy="267.52" r="1.45"/><circle cx="539.36" cy="223.40" r="1.45"/><circle cx="540.12" cy="247.70" r="1.45"/><circle cx="540.88" cy="281.59" r="1.45"/><circle cx="541.64" cy="315.48" r="1.45"/><circle cx="542.40" cy="296.29" r="1.45"/><circle cx="543.16" cy="277.10" r="1.45"/><circle cx="543.92" cy="263.80" r="1.45"/><circle cx="544.68" cy="287.24" r="1.45"/><circle cx="545.44" cy="310.68" r="1.45"/><circle cx="546.20" cy="253.30" r="1.45"/><circle cx="546.96" cy="283.47" r="1.45"/><circle cx="547.72" cy="313.64" r="1.45"/><circle cx="548.48" cy="287.07" r="1.45"/><circle cx="549.24" cy="260.50" r="1.45"/><circle cx="550.00" cy="287.40" r="1.45"/><circle cx="550.76" cy="293.29" r="1.45"/><circle cx="551.52" cy="299.19" r="1.45"/><circle cx="552.28" cy="305.08" r="1.45"/><circle cx="553.04" cy="310.98" r="1.45"/><circle cx="553.80" cy="280.15" r="1.45"/><circle cx="554.56" cy="249.33" r="1.45"/><circle cx="555.32" cy="218.50" r="1.45"/><circle cx="556.08" cy="228.10" r="1.45"/><circle cx="556.84" cy="272.32" r="1.45"/><circle cx="557.60" cy="316.55" r="1.45"/><circle cx="558.36" cy="285.32" r="1.45"/><circle cx="559.12" cy="254.10" r="1.45"/><circle cx="559.88" cy="247.70" r="1.45"/><circle cx="560.64" cy="314.70" r="1.45"/><circle cx="561.40" cy="274.50" r="1.45"/><circle cx="562.16" cy="288.72" r="1.45"/><circle cx="562.92" cy="302.93" r="1.45"/><circle cx="563.68" cy="317.15" r="1.45"/><circle cx="564.44" cy="297.87" r="1.45"/><circle cx="565.20" cy="278.60" r="1.45"/><circle cx="565.96" cy="296.24" r="1.45"/><circle cx="566.72" cy="313.88" r="1.45"/><circle cx="567.48" cy="255.60" r="1.45"/><circle cx="568.24" cy="315.21" r="1.45"/><circle cx="569.00" cy="269.21" r="1.45"/><circle cx="569.76" cy="223.20" r="1.45"/><circle cx="570.52" cy="268.83" r="1.45"/><circle cx="571.28" cy="314.46" r="1.45"/><circle cx="572.04" cy="291.28" r="1.45"/><circle cx="572.80" cy="268.10" r="1.45"/><circle cx="573.56" cy="315.49" r="1.45"/><circle cx="574.32" cy="229.30" r="1.45"/><circle cx="575.08" cy="269.82" r="1.45"/><circle cx="575.84" cy="310.33" r="1.45"/><circle cx="576.60" cy="226.50" r="1.45"/><circle cx="577.36" cy="223.20" r="1.45"/><circle cx="578.12" cy="267.65" r="1.45"/><circle cx="578.88" cy="312.10" r="1.45"/><circle cx="579.64" cy="233.10" r="1.45"/><circle cx="580.40" cy="260.21" r="1.45"/><circle cx="581.16" cy="287.32" r="1.45"/><circle cx="581.92" cy="314.43" r="1.45"/><circle cx="582.68" cy="283.05" r="1.45"/><circle cx="583.44" cy="251.68" r="1.45"/><circle cx="584.20" cy="220.30" r="1.45"/><circle cx="584.96" cy="266.76" r="1.45"/><circle cx="585.72" cy="313.23" r="1.45"/><circle cx="586.48" cy="265.96" r="1.45"/><circle cx="587.24" cy="218.70" r="1.45"/><circle cx="588.00" cy="315.78" r="1.45"/><circle cx="588.76" cy="218.50" r="1.45"/><circle cx="589.52" cy="309.59" r="1.45"/><circle cx="590.28" cy="283.00" r="1.45"/><circle cx="591.04" cy="256.40" r="1.45"/><circle cx="591.80" cy="283.15" r="1.45"/><circle cx="592.56" cy="309.89" r="1.45"/><circle cx="593.32" cy="268.20" r="1.45"/><circle cx="594.08" cy="226.50" r="1.45"/><circle cx="594.84" cy="269.56" r="1.45"/><circle cx="595.60" cy="312.62" r="1.45"/><circle cx="596.36" cy="276.06" r="1.45"/><circle cx="597.12" cy="239.50" r="1.45"/><circle cx="597.88" cy="224.60" r="1.45"/><circle cx="598.64" cy="316.04" r="1.45"/><circle cx="599.40" cy="268.17" r="1.45"/><circle cx="600.16" cy="220.30" r="1.45"/><circle cx="600.92" cy="237.80" r="1.45"/><circle cx="601.68" cy="273.65" r="1.45"/><circle cx="602.44" cy="309.50" r="1.45"/><circle cx="603.20" cy="295.80" r="1.45"/><circle cx="603.96" cy="282.10" r="1.45"/><circle cx="604.72" cy="315.52" r="1.45"/><circle cx="605.48" cy="267.46" r="1.45"/><circle cx="606.24" cy="219.40" r="1.45"/><circle cx="607.00" cy="268.12" r="1.45"/><circle cx="607.76" cy="316.84" r="1.45"/><circle cx="608.52" cy="296.37" r="1.45"/><circle cx="609.28" cy="275.90" r="1.45"/><circle cx="610.04" cy="294.89" r="1.45"/><circle cx="610.80" cy="313.87" r="1.45"/><circle cx="611.56" cy="297.48" r="1.45"/><circle cx="612.32" cy="281.09" r="1.45"/><circle cx="613.08" cy="290.84" r="1.45"/><circle cx="613.84" cy="300.59" r="1.45"/><circle cx="614.60" cy="310.34" r="1.45"/><circle cx="615.36" cy="282.82" r="1.45"/><circle cx="616.12" cy="255.30" r="1.45"/><circle cx="616.88" cy="316.09" r="1.45"/><circle cx="617.64" cy="277.70" r="1.45"/><circle cx="618.40" cy="239.30" r="1.45"/><circle cx="619.16" cy="278.05" r="1.45"/><circle cx="619.92" cy="316.79" r="1.45"/><circle cx="620.68" cy="267.35" r="1.45"/><circle cx="621.44" cy="217.90" r="1.45"/><circle cx="622.20" cy="249.83" r="1.45"/><circle cx="622.96" cy="281.76" r="1.45"/><circle cx="623.72" cy="313.68" r="1.45"/><circle cx="624.48" cy="306.09" r="1.45"/><circle cx="625.24" cy="298.49" r="1.45"/><circle cx="626.00" cy="290.90" r="1.45"/><circle cx="626.76" cy="316.95" r="1.45"/><circle cx="627.52" cy="275.10" r="1.45"/><circle cx="628.28" cy="293.49" r="1.45"/><circle cx="629.04" cy="311.87" r="1.45"/><circle cx="629.80" cy="274.50" r="1.45"/><circle cx="630.56" cy="313.30" r="1.45"/><circle cx="631.32" cy="266.60" r="1.45"/><circle cx="632.08" cy="263.80" r="1.45"/><circle cx="632.84" cy="286.97" r="1.45"/><circle cx="633.60" cy="310.15" r="1.45"/><circle cx="634.36" cy="280.06" r="1.45"/><circle cx="635.12" cy="249.98" r="1.45"/><circle cx="635.88" cy="219.90" r="1.45"/><circle cx="636.64" cy="264.77" r="1.45"/><circle cx="637.40" cy="309.65" r="1.45"/><circle cx="638.16" cy="267.87" r="1.45"/><circle cx="638.92" cy="226.10" r="1.45"/><circle cx="639.68" cy="315.38" r="1.45"/><circle cx="640.44" cy="285.49" r="1.45"/><circle cx="641.20" cy="255.60" r="1.45"/><circle cx="641.96" cy="249.80" r="1.45"/><circle cx="642.72" cy="252.90" r="1.45"/><circle cx="643.48" cy="281.88" r="1.45"/><circle cx="644.24" cy="310.86" r="1.45"/><circle cx="645.00" cy="290.90" r="1.45"/><circle cx="645.76" cy="313.21" r="1.45"/><circle cx="646.52" cy="261.40" r="1.45"/><circle cx="647.28" cy="309.52" r="1.45"/><circle cx="648.04" cy="268.41" r="1.45"/><circle cx="648.80" cy="227.30" r="1.45"/></g>
</g>
<line x1="459.8" y1="5.3" x2="478.2" y2="5.3" stroke="#2020ff" stroke-width="1.1"/>
<line x1="552.3" y1="5.3" x2="570.4" y2="5.3" stroke="#ff2a3a" stroke-width="1.1" stroke-opacity="0.8"/>
<circle cx="561.5" cy="5.2" r="1.6" fill="#ffc0c4" stroke="#f07080" stroke-width="0.45"/>
<rect x="632.7" y="0.7" width="21.2" height="10.5" fill="#ff7f0a"/>
</g>
<g filter="url(#bl)">
<g font-size="10" text-anchor="end">
<text x="28.90" y="133.73">0.00</text>
<text x="28.90" y="98.78">0.05</text>
<text x="28.90" y="63.84">0.10</text>
<text x="28.90" y="28.89">0.15</text>
</g>
<g font-size="10" text-anchor="start">
<text x="194.20" y="155.10">0.00</text>
<text x="194.20" y="110.83">0.10</text>
<text x="194.20" y="66.57">0.20</text>
<text x="194.20" y="22.30">0.30</text>
</g>
<g font-size="10" text-anchor="middle">
<text x="34.20" y="164.10">0</text>
<text x="72.20" y="164.10">50</text>
<text x="110.20" y="164.10">100</text>
<text x="148.20" y="164.10">150</text>
<text x="186.20" y="164.10">200</text>
</g>
<text x="111.60" y="180.20" font-size="9.85" text-anchor="middle">Forecasting Sample</text>
<text x="188.90" y="29.80" font-size="10" text-anchor="end">100 Hz</text>
<text transform="translate(221.60 84.90) rotate(-90)" font-size="10" text-anchor="middle">Error</text>
<text transform="translate(8.50 81.90) rotate(-90)" font-size="10.2" text-anchor="middle">Sound Absorption Coefficient</text>
<text transform="translate(8.50 163.70) rotate(-90)" font-size="10" text-anchor="start">&#945;</text>
<path d="M1.30 149.90Q4.90 153.50 8.30 149.90" stroke="#000" stroke-width="0.9" fill="none"/>
<path d="M1.30 15.10Q4.90 11.50 8.30 15.10" stroke="#000" stroke-width="0.9" fill="none"/>
<g font-size="10" text-anchor="end">
<text x="260.00" y="154.70">-0.1</text>
<text x="260.00" y="132.57">0.0</text>
<text x="260.00" y="110.43">0.1</text>
<text x="260.00" y="88.30">0.2</text>
<text x="260.00" y="66.17">0.3</text>
<text x="260.00" y="44.03">0.4</text>
<text x="260.00" y="21.90">0.5</text>
</g>
<g font-size="10" text-anchor="start">
<text x="425.30" y="155.10">0.00</text>
<text x="425.30" y="132.97">0.10</text>
<text x="425.30" y="110.83">0.20</text>
<text x="425.30" y="88.70">0.30</text>
<text x="425.30" y="66.57">0.40</text>
<text x="425.30" y="44.43">0.50</text>
<text x="425.30" y="22.30">0.60</text>
</g>
<g font-size="10" text-anchor="middle">
<text x="265.30" y="164.10">0</text>
<text x="303.30" y="164.10">50</text>
<text x="341.30" y="164.10">100</text>
<text x="379.30" y="164.10">150</text>
<text x="417.30" y="164.10">200</text>
</g>
<text x="342.70" y="180.20" font-size="9.85" text-anchor="middle">Forecasting Sample</text>
<text x="420.00" y="29.80" font-size="10" text-anchor="end">200 Hz</text>
<text transform="translate(452.70 84.90) rotate(-90)" font-size="10" text-anchor="middle">Error</text>
<text transform="translate(241.70 81.90) rotate(-90)" font-size="10.2" text-anchor="middle">Sound Absorption Coefficient</text>
<text transform="translate(241.70 163.70) rotate(-90)" font-size="10" text-anchor="start">&#945;</text>
<path d="M234.50 149.90Q238.10 153.50 241.50 149.90" stroke="#000" stroke-width="0.9" fill="none"/>
<path d="M234.50 15.10Q238.10 11.50 241.50 15.10" stroke="#000" stroke-width="0.9" fill="none"/>
<g font-size="10" text-anchor="end">
<text x="491.50" y="154.70">-0.2</text>
<text x="491.50" y="132.57">0.0</text>
<text x="491.50" y="110.43">0.2</text>
<text x="491.50" y="88.30">0.4</text>
<text x="491.50" y="66.17">0.6</text>
<text x="491.50" y="44.03">0.8</text>
<text x="491.50" y="21.90">1.0</text>
</g>
<g font-size="10" text-anchor="start">
<text x="656.80" y="155.10">0.00</text>
<text x="656.80" y="121.90">0.20</text>
<text x="656.80" y="88.70">0.40</text>
<text x="656.80" y="55.50">0.60</text>
<text x="656.80" y="22.30">0.80</text>
</g>
<g font-size="10" text-anchor="middle">
<text x="496.80" y="164.10">0</text>
<text x="534.80" y="164.10">50</text>
<text x="572.80" y="164.10">100</text>
<text x="610.80" y="164.10">150</text>
<text x="648.80" y="164.10">200</text>
</g>
<text x="574.20" y="180.20" font-size="9.85" text-anchor="middle">Forecasting Sample</text>
<text x="651.50" y="29.80" font-size="10" text-anchor="end">300 Hz</text>
<text transform="translate(684.20 84.90) rotate(-90)" font-size="10" text-anchor="middle">Error</text>
<text transform="translate(472.70 81.90) rotate(-90)" font-size="10.2" text-anchor="middle">Sound Absorption Coefficient</text>
<text transform="translate(472.70 163.70) rotate(-90)" font-size="10" text-anchor="start">&#945;</text>
<path d="M465.50 149.90Q469.10 153.50 472.50 149.90" stroke="#000" stroke-width="0.9" fill="none"/>
<path d="M465.50 15.10Q469.10 11.50 472.50 15.10" stroke="#000" stroke-width="0.9" fill="none"/>
<g font-size="10" text-anchor="end">
<text x="28.90" y="340.10">-0.2</text>
<text x="28.90" y="319.67">0.0</text>
<text x="28.90" y="299.24">0.2</text>
<text x="28.90" y="278.81">0.4</text>
<text x="28.90" y="258.38">0.6</text>
<text x="28.90" y="237.95">0.8</text>
<text x="28.90" y="217.52">1.0</text>
</g>
<g font-size="10" text-anchor="start">
<text x="194.20" y="340.50">0.00</text>
<text x="194.20" y="318.37">0.20</text>
<text x="194.20" y="296.23">0.40</text>
<text x="194.20" y="274.10">0.60</text>
<text x="194.20" y="251.97">0.80</text>
<text x="194.20" y="229.83">1.00</text>
<text x="194.20" y="207.70">1.20</text>
</g>
<g font-size="10" text-anchor="middle">
<text x="34.20" y="349.50">0</text>
<text x="72.20" y="349.50">50</text>
<text x="110.20" y="349.50">100</text>
<text x="148.20" y="349.50">150</text>
<text x="186.20" y="349.50">200</text>
</g>
<text x="111.60" y="365.60" font-size="9.85" text-anchor="middle">Forecasting Sample</text>
<text x="188.90" y="215.20" font-size="10" text-anchor="end">400 Hz</text>
<text transform="translate(221.60 270.30) rotate(-90)" font-size="10" text-anchor="middle">Error</text>
<text transform="translate(10.00 267.30) rotate(-90)" font-size="10.2" text-anchor="middle">Sound Absorption Coefficient</text>
<text transform="translate(10.00 349.10) rotate(-90)" font-size="10" text-anchor="start">&#945;</text>
<path d="M2.80 335.30Q6.40 338.90 9.80 335.30" stroke="#000" stroke-width="0.9" fill="none"/>
<path d="M2.80 200.50Q6.40 196.90 9.80 200.50" stroke="#000" stroke-width="0.9" fill="none"/>
<g font-size="10" text-anchor="end">
<text x="260.00" y="340.10">-0.2</text>
<text x="260.00" y="319.67">0.0</text>
<text x="260.00" y="299.24">0.2</text>
<text x="260.00" y="278.81">0.4</text>
<text x="260.00" y="258.38">0.6</text>
<text x="260.00" y="237.95">0.8</text>
<text x="260.00" y="217.52">1.0</text>
</g>
<g font-size="10" text-anchor="start">
<text x="425.30" y="340.50">0.00</text>
<text x="425.30" y="318.37">0.20</text>
<text x="425.30" y="296.23">0.40</text>
<text x="425.30" y="274.10">0.60</text>
<text x="425.30" y="251.97">0.80</text>
<text x="425.30" y="229.83">1.00</text>
<text x="425.30" y="207.70">1.20</text>
</g>
<g font-size="10" text-anchor="middle">
<text x="265.30" y="349.50">0</text>
<text x="303.30" y="349.50">50</text>
<text x="341.30" y="349.50">100</text>
<text x="379.30" y="349.50">150</text>
<text x="417.30" y="349.50">200</text>
</g>
<text x="342.70" y="365.60" font-size="9.85" text-anchor="middle">Forecasting Sample</text>
<text x="420.00" y="215.20" font-size="10" text-anchor="end">500 Hz</text>
<text transform="translate(452.70 270.30) rotate(-90)" font-size="10" text-anchor="middle">Error</text>
<text transform="translate(241.70 267.30) rotate(-90)" font-size="10.2" text-anchor="middle">Sound Absorption Coefficient</text>
<text transform="translate(241.70 349.10) rotate(-90)" font-size="10" text-anchor="start">&#945;</text>
<path d="M234.50 335.30Q238.10 338.90 241.50 335.30" stroke="#000" stroke-width="0.9" fill="none"/>
<path d="M234.50 200.50Q238.10 196.90 241.50 200.50" stroke="#000" stroke-width="0.9" fill="none"/>
<g font-size="10" text-anchor="end">
<text x="491.50" y="340.10">-0.2</text>
<text x="491.50" y="319.67">0.0</text>
<text x="491.50" y="299.24">0.2</text>
<text x="491.50" y="278.81">0.4</text>
<text x="491.50" y="258.38">0.6</text>
<text x="491.50" y="237.95">0.8</text>
<text x="491.50" y="217.52">1.0</text>
</g>
<g font-size="10" text-anchor="start">
<text x="656.80" y="340.50">0.00</text>
<text x="656.80" y="318.37">0.20</text>
<text x="656.80" y="296.23">0.40</text>
<text x="656.80" y="274.10">0.60</text>
<text x="656.80" y="251.97">0.80</text>
<text x="656.80" y="229.83">1.00</text>
<text x="656.80" y="207.70">1.20</text>
</g>
<g font-size="10" text-anchor="middle">
<text x="496.80" y="349.50">0</text>
<text x="534.80" y="349.50">50</text>
<text x="572.80" y="349.50">100</text>
<text x="610.80" y="349.50">150</text>
<text x="648.80" y="349.50">200</text>
</g>
<text x="574.20" y="365.60" font-size="9.85" text-anchor="middle">Forecasting Sample</text>
<text x="651.50" y="215.20" font-size="10" text-anchor="end">600 Hz</text>
<text transform="translate(684.20 270.30) rotate(-90)" font-size="10" text-anchor="middle">Error</text>
<text transform="translate(472.70 267.30) rotate(-90)" font-size="10.2" text-anchor="middle">Sound Absorption Coefficient</text>
<text transform="translate(472.70 349.10) rotate(-90)" font-size="10" text-anchor="start">&#945;</text>
<path d="M465.50 335.30Q469.10 338.90 472.50 335.30" stroke="#000" stroke-width="0.9" fill="none"/>
<path d="M465.50 200.50Q469.10 196.90 472.50 200.50" stroke="#000" stroke-width="0.9" fill="none"/>
<text x="480.8" y="8.8" font-size="10">Predictive Value</text>
<text x="573" y="8.8" font-size="10">Actual Value</text>
<text x="657" y="9.5" font-size="10" textLength="24" lengthAdjust="spacingAndGlyphs">Error</text>
</g></svg></body></html>
